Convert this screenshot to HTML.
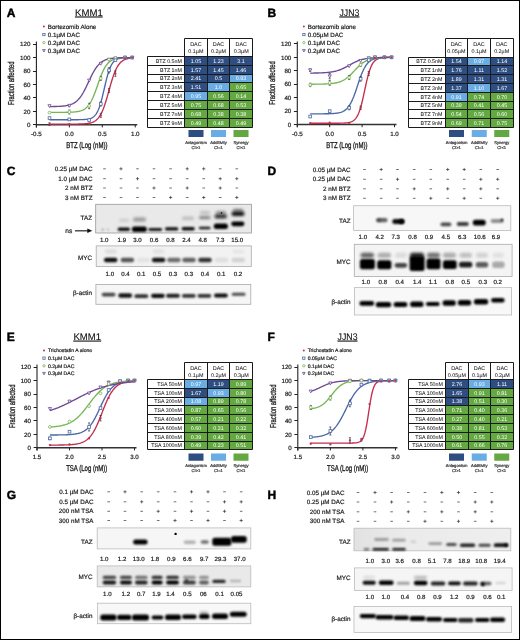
<!DOCTYPE html>
<html><head><meta charset="utf-8"><style>
html,body{margin:0;padding:0;background:#fff;}
body{width:520px;height:640px;position:relative;overflow:hidden;font-family:"Liberation Sans", sans-serif;}
</style></head><body>
<svg width="520" height="640" viewBox="0 0 520 640" style="position:absolute;left:0;top:0;filter:blur(0.3px)" text-rendering="geometricPrecision" font-family='"Liberation Sans", sans-serif'>
<defs><filter id="fb" x="-50%" y="-200%" width="200%" height="500%"><feGaussianBlur stdDeviation="1.0"/></filter><filter id="fs" x="-50%" y="-200%" width="200%" height="500%"><feGaussianBlur stdDeviation="1.7"/></filter></defs>
<rect x="0" y="0" width="520" height="640" fill="#fff"/>
<text x="6.80" y="17.00" font-size="12.0" text-anchor="start" font-weight="bold" fill="#000" stroke="#000" stroke-width="0.45">A</text>
<text x="267.60" y="17.00" font-size="12.0" text-anchor="start" font-weight="bold" fill="#000" stroke="#000" stroke-width="0.45">B</text>
<text x="6.80" y="175.40" font-size="12.0" text-anchor="start" font-weight="bold" fill="#000" stroke="#000" stroke-width="0.45">C</text>
<text x="267.60" y="175.20" font-size="12.0" text-anchor="start" font-weight="bold" fill="#000" stroke="#000" stroke-width="0.45">D</text>
<text x="6.80" y="341.20" font-size="12.0" text-anchor="start" font-weight="bold" fill="#000" stroke="#000" stroke-width="0.45">E</text>
<text x="267.60" y="341.20" font-size="12.0" text-anchor="start" font-weight="bold" fill="#000" stroke="#000" stroke-width="0.45">F</text>
<text x="6.80" y="499.00" font-size="12.0" text-anchor="start" font-weight="bold" fill="#000" stroke="#000" stroke-width="0.45">G</text>
<text x="267.60" y="499.00" font-size="12.0" text-anchor="start" font-weight="bold" fill="#000" stroke="#000" stroke-width="0.45">H</text>
<text x="0" y="0" font-size="9.6" fill="#111" stroke="#111" stroke-width="0.12" text-decoration="underline" transform="translate(75.00 15.50) scale(1.0 1)">KMM1</text>
<text x="0" y="0" font-size="9.6" fill="#111" stroke="#111" stroke-width="0.12" text-decoration="underline" transform="translate(339.50 15.50) scale(0.91 1)">JJN3</text>
<text x="0" y="0" font-size="9.6" fill="#111" stroke="#111" stroke-width="0.12" text-decoration="underline" transform="translate(73.40 339.60) scale(1.0 1)">KMM1</text>
<text x="0" y="0" font-size="9.6" fill="#111" stroke="#111" stroke-width="0.12" text-decoration="underline" transform="translate(337.60 339.60) scale(0.91 1)">JJN3</text>
<path d="M36.40 41.60 V127.40" stroke="#222" stroke-width="1.1" fill="none"/>
<path d="M36.40 124.80 H137.25" stroke="#333" stroke-width="1.5" fill="none"/>
<path d="M33.00 124.50 H36.40" stroke="#222" stroke-width="1"/>
<text x="30.40" y="127.00" font-size="6.2" text-anchor="end" font-weight="normal" fill="#222" stroke="#222" stroke-width="0.2" >0</text>
<path d="M33.00 111.50 H36.40" stroke="#222" stroke-width="1"/>
<text x="30.40" y="113.55" font-size="6.2" text-anchor="end" font-weight="normal" fill="#222" stroke="#222" stroke-width="0.2" >20</text>
<path d="M33.00 97.50 H36.40" stroke="#222" stroke-width="1"/>
<text x="30.40" y="100.10" font-size="6.2" text-anchor="end" font-weight="normal" fill="#222" stroke="#222" stroke-width="0.2" >40</text>
<path d="M33.00 84.50 H36.40" stroke="#222" stroke-width="1"/>
<text x="30.40" y="86.65" font-size="6.2" text-anchor="end" font-weight="normal" fill="#222" stroke="#222" stroke-width="0.2" >60</text>
<path d="M33.00 71.50 H36.40" stroke="#222" stroke-width="1"/>
<text x="30.40" y="73.20" font-size="6.2" text-anchor="end" font-weight="normal" fill="#222" stroke="#222" stroke-width="0.2" >80</text>
<path d="M33.00 57.50 H36.40" stroke="#222" stroke-width="1"/>
<text x="30.40" y="59.75" font-size="6.2" text-anchor="end" font-weight="normal" fill="#222" stroke="#222" stroke-width="0.2" >100</text>
<path d="M33.00 44.50 H36.40" stroke="#222" stroke-width="1"/>
<text x="30.40" y="46.30" font-size="6.2" text-anchor="end" font-weight="normal" fill="#222" stroke="#222" stroke-width="0.2" >120</text>
<path d="M36.40 124.80 V127.40" stroke="#222" stroke-width="1"/>
<text x="36.40" y="136.30" font-size="6.2" text-anchor="middle" font-weight="normal" fill="#222" stroke="#222" stroke-width="0.2" >-0.5</text>
<path d="M69.35 124.80 V127.40" stroke="#222" stroke-width="1"/>
<text x="69.35" y="136.30" font-size="6.2" text-anchor="middle" font-weight="normal" fill="#222" stroke="#222" stroke-width="0.2" >0.0</text>
<path d="M102.30 124.80 V127.40" stroke="#222" stroke-width="1"/>
<text x="102.30" y="136.30" font-size="6.2" text-anchor="middle" font-weight="normal" fill="#222" stroke="#222" stroke-width="0.2" >0.5</text>
<path d="M135.25 124.80 V127.40" stroke="#222" stroke-width="1"/>
<text x="135.25" y="136.30" font-size="6.2" text-anchor="middle" font-weight="normal" fill="#222" stroke="#222" stroke-width="0.2" >1.0</text>
<path d="M49.51 124.13 L50.20 124.13 L50.89 124.13 L51.58 124.13 L52.27 124.13 L52.96 124.13 L53.65 124.13 L54.34 124.13 L55.03 124.13 L55.72 124.13 L56.41 124.13 L57.10 124.13 L57.78 124.13 L58.47 124.13 L59.16 124.13 L59.85 124.13 L60.54 124.13 L61.23 124.13 L61.92 124.12 L62.61 124.12 L63.30 124.12 L63.99 124.12 L64.68 124.12 L65.37 124.12 L66.06 124.12 L66.75 124.12 L67.44 124.12 L68.12 124.12 L68.81 124.12 L69.50 124.11 L70.19 124.11 L70.88 124.11 L71.57 124.11 L72.26 124.10 L72.95 124.10 L73.64 124.10 L74.33 124.09 L75.02 124.08 L75.71 124.08 L76.40 124.07 L77.09 124.06 L77.78 124.05 L78.46 124.04 L79.15 124.02 L79.84 124.00 L80.53 123.98 L81.22 123.96 L81.91 123.94 L82.60 123.90 L83.29 123.87 L83.98 123.83 L84.67 123.78 L85.36 123.72 L86.05 123.66 L86.74 123.58 L87.43 123.50 L88.12 123.40 L88.81 123.28 L89.49 123.15 L90.18 122.99 L90.87 122.81 L91.56 122.60 L92.25 122.36 L92.94 122.09 L93.63 121.77 L94.32 121.41 L95.01 120.99 L95.70 120.51 L96.39 119.97 L97.08 119.35 L97.77 118.64 L98.46 117.84 L99.15 116.93 L99.83 115.92 L100.52 114.78 L101.21 113.52 L101.90 112.12 L102.59 110.58 L103.28 108.89 L103.97 107.07 L104.66 105.10 L105.35 103.01 L106.04 100.80 L106.73 98.49 L107.42 96.10 L108.11 93.65 L108.80 91.18 L109.49 88.69 L110.18 86.23 L110.86 83.83 L111.55 81.49 L112.24 79.25 L112.93 77.13 L113.62 75.13 L114.31 73.27 L115.00 71.54 L115.69 69.96 L116.38 68.53 L117.07 67.23 L117.76 66.05 L118.45 65.01 L119.14 64.07 L119.83 63.25 L120.52 62.51 L121.20 61.87 L121.89 61.31 L122.58 60.81 L123.27 60.38 L123.96 60.00 L124.65 59.67 L125.34 59.38 L126.03 59.14 L126.72 58.92 L127.41 58.73 L128.10 58.57 L128.79 58.43 L129.48 58.31 L130.17 58.21 L130.86 58.12 L131.55 58.04 L132.23 57.97" stroke="#c42d4f" stroke-width="1.35" fill="none"/>
<path d="M49.51 119.76 L50.20 119.76 L50.89 119.76 L51.58 119.76 L52.27 119.76 L52.96 119.76 L53.65 119.76 L54.34 119.76 L55.03 119.76 L55.72 119.76 L56.41 119.76 L57.10 119.76 L57.78 119.76 L58.47 119.76 L59.16 119.76 L59.85 119.76 L60.54 119.76 L61.23 119.76 L61.92 119.76 L62.61 119.76 L63.30 119.76 L63.99 119.76 L64.68 119.76 L65.37 119.76 L66.06 119.75 L66.75 119.75 L67.44 119.75 L68.12 119.75 L68.81 119.75 L69.50 119.75 L70.19 119.75 L70.88 119.75 L71.57 119.75 L72.26 119.75 L72.95 119.75 L73.64 119.74 L74.33 119.74 L75.02 119.74 L75.71 119.74 L76.40 119.73 L77.09 119.73 L77.78 119.72 L78.46 119.71 L79.15 119.70 L79.84 119.69 L80.53 119.67 L81.22 119.66 L81.91 119.64 L82.60 119.61 L83.29 119.58 L83.98 119.54 L84.67 119.50 L85.36 119.44 L86.05 119.38 L86.74 119.30 L87.43 119.20 L88.12 119.08 L88.81 118.94 L89.49 118.77 L90.18 118.57 L90.87 118.32 L91.56 118.03 L92.25 117.67 L92.94 117.25 L93.63 116.74 L94.32 116.13 L95.01 115.42 L95.70 114.57 L96.39 113.58 L97.08 112.42 L97.77 111.08 L98.46 109.54 L99.15 107.79 L99.83 105.81 L100.52 103.62 L101.21 101.21 L101.90 98.61 L102.59 95.84 L103.28 92.95 L103.97 89.98 L104.66 86.99 L105.35 84.02 L106.04 81.14 L106.73 78.39 L107.42 75.81 L108.11 73.43 L108.80 71.26 L109.49 69.31 L110.18 67.58 L110.86 66.07 L111.55 64.75 L112.24 63.61 L112.93 62.63 L113.62 61.80 L114.31 61.10 L115.00 60.51 L115.69 60.01 L116.38 59.59 L117.07 59.24 L117.76 58.95 L118.45 58.71 L119.14 58.51 L119.83 58.35 L120.52 58.21 L121.20 58.09 L121.89 58.00 L122.58 57.92 L123.27 57.86 L123.96 57.80 L124.65 57.76 L125.34 57.72 L126.03 57.69 L126.72 57.67 L127.41 57.65 L128.10 57.63 L128.79 57.62 L129.48 57.60 L130.17 57.59 L130.86 57.59 L131.55 57.58 L132.23 57.58" stroke="#4a68a8" stroke-width="1.35" fill="none"/>
<path d="M49.51 112.36 L50.20 112.36 L50.89 112.36 L51.58 112.36 L52.27 112.35 L52.96 112.35 L53.65 112.35 L54.34 112.35 L55.03 112.35 L55.72 112.35 L56.41 112.35 L57.10 112.35 L57.78 112.35 L58.47 112.34 L59.16 112.34 L59.85 112.34 L60.54 112.34 L61.23 112.33 L61.92 112.33 L62.61 112.32 L63.30 112.32 L63.99 112.31 L64.68 112.30 L65.37 112.30 L66.06 112.29 L66.75 112.28 L67.44 112.26 L68.12 112.25 L68.81 112.23 L69.50 112.21 L70.19 112.19 L70.88 112.16 L71.57 112.13 L72.26 112.09 L72.95 112.05 L73.64 112.01 L74.33 111.95 L75.02 111.89 L75.71 111.82 L76.40 111.73 L77.09 111.64 L77.78 111.53 L78.46 111.40 L79.15 111.26 L79.84 111.09 L80.53 110.90 L81.22 110.68 L81.91 110.42 L82.60 110.13 L83.29 109.80 L83.98 109.43 L84.67 109.00 L85.36 108.51 L86.05 107.96 L86.74 107.34 L87.43 106.65 L88.12 105.86 L88.81 104.99 L89.49 104.02 L90.18 102.94 L90.87 101.76 L91.56 100.47 L92.25 99.07 L92.94 97.56 L93.63 95.95 L94.32 94.24 L95.01 92.45 L95.70 90.58 L96.39 88.66 L97.08 86.70 L97.77 84.72 L98.46 82.75 L99.15 80.80 L99.83 78.89 L100.52 77.04 L101.21 75.26 L101.90 73.57 L102.59 71.99 L103.28 70.50 L103.97 69.13 L104.66 67.86 L105.35 66.71 L106.04 65.66 L106.73 64.71 L107.42 63.86 L108.11 63.09 L108.80 62.41 L109.49 61.81 L110.18 61.28 L110.86 60.80 L111.55 60.39 L112.24 60.02 L112.93 59.70 L113.62 59.42 L114.31 59.18 L115.00 58.97 L115.69 58.78 L116.38 58.62 L117.07 58.48 L117.76 58.35 L118.45 58.25 L119.14 58.15 L119.83 58.07 L120.52 58.00 L121.20 57.94 L121.89 57.89 L122.58 57.84 L123.27 57.81 L123.96 57.77 L124.65 57.74 L125.34 57.72 L126.03 57.69 L126.72 57.67 L127.41 57.66 L128.10 57.64 L128.79 57.63 L129.48 57.62 L130.17 57.61 L130.86 57.60 L131.55 57.60 L132.23 57.59" stroke="#76b552" stroke-width="1.35" fill="none"/>
<path d="M49.51 106.59 L50.20 106.58 L50.89 106.57 L51.58 106.56 L52.27 106.55 L52.96 106.54 L53.65 106.53 L54.34 106.52 L55.03 106.50 L55.72 106.48 L56.41 106.46 L57.10 106.44 L57.78 106.41 L58.47 106.38 L59.16 106.35 L59.85 106.31 L60.54 106.27 L61.23 106.22 L61.92 106.17 L62.61 106.11 L63.30 106.04 L63.99 105.97 L64.68 105.88 L65.37 105.79 L66.06 105.68 L66.75 105.56 L67.44 105.43 L68.12 105.28 L68.81 105.11 L69.50 104.92 L70.19 104.70 L70.88 104.47 L71.57 104.20 L72.26 103.91 L72.95 103.58 L73.64 103.21 L74.33 102.81 L75.02 102.36 L75.71 101.87 L76.40 101.32 L77.09 100.72 L77.78 100.07 L78.46 99.35 L79.15 98.57 L79.84 97.73 L80.53 96.81 L81.22 95.83 L81.91 94.78 L82.60 93.67 L83.29 92.49 L83.98 91.24 L84.67 89.94 L85.36 88.59 L86.05 87.20 L86.74 85.76 L87.43 84.31 L88.12 82.84 L88.81 81.36 L89.49 79.89 L90.18 78.43 L90.87 77.00 L91.56 75.60 L92.25 74.25 L92.94 72.95 L93.63 71.71 L94.32 70.53 L95.01 69.41 L95.70 68.36 L96.39 67.38 L97.08 66.47 L97.77 65.62 L98.46 64.84 L99.15 64.13 L99.83 63.47 L100.52 62.87 L101.21 62.33 L101.90 61.83 L102.59 61.38 L103.28 60.98 L103.97 60.61 L104.66 60.29 L105.35 59.99 L106.04 59.73 L106.73 59.49 L107.42 59.28 L108.11 59.09 L108.80 58.92 L109.49 58.77 L110.18 58.63 L110.86 58.51 L111.55 58.40 L112.24 58.31 L112.93 58.22 L113.62 58.15 L114.31 58.08 L115.00 58.02 L115.69 57.97 L116.38 57.92 L117.07 57.88 L117.76 57.84 L118.45 57.81 L119.14 57.78 L119.83 57.75 L120.52 57.73 L121.20 57.71 L121.89 57.69 L122.58 57.68 L123.27 57.66 L123.96 57.65 L124.65 57.64 L125.34 57.63 L126.03 57.62 L126.72 57.61 L127.41 57.60 L128.10 57.60 L128.79 57.59 L129.48 57.59 L130.17 57.58 L130.86 57.58 L131.55 57.58 L132.23 57.57" stroke="#6d4893" stroke-width="1.35" fill="none"/>
<path d="M49.51 122.78 V125.47 M48.41 122.78 H50.61 M48.41 125.47 H50.61" stroke="#333" stroke-width="0.65" fill="none"/>
<path d="M100.79 113.37 V117.40 M99.69 113.37 H101.89 M99.69 117.40 H101.89" stroke="#333" stroke-width="0.65" fill="none"/>
<path d="M109.03 88.48 V92.52 M107.93 88.48 H110.13 M107.93 92.52 H110.13" stroke="#333" stroke-width="0.65" fill="none"/>
<path d="M115.41 71.00 V76.38 M114.31 71.00 H116.51 M114.31 76.38 H116.51" stroke="#333" stroke-width="0.65" fill="none"/>
<path d="M100.79 101.94 V105.97 M99.69 101.94 H101.89 M99.69 105.97 H101.89" stroke="#333" stroke-width="0.65" fill="none"/>
<path d="M109.03 67.64 V73.02 M107.93 67.64 H110.13 M107.93 73.02 H110.13" stroke="#333" stroke-width="0.65" fill="none"/>
<path d="M69.35 110.00 V114.04 M68.25 110.00 H70.45 M68.25 114.04 H70.45" stroke="#333" stroke-width="0.65" fill="none"/>
<path d="M89.19 103.28 V108.66 M88.09 103.28 H90.29 M88.09 108.66 H90.29" stroke="#333" stroke-width="0.65" fill="none"/>
<path d="M100.79 76.38 V80.42 M99.69 76.38 H101.89 M99.69 80.42 H101.89" stroke="#333" stroke-width="0.65" fill="none"/>
<path d="M69.35 104.62 V106.64 M68.25 104.62 H70.45 M68.25 106.64 H70.45" stroke="#333" stroke-width="0.65" fill="none"/>
<path d="M47.91 104.69 H51.11 L49.51 107.57 Z" fill="#fff" stroke="#6d4893" stroke-width="0.8"/>
<path d="M67.75 104.35 H70.95 L69.35 107.23 Z" fill="#fff" stroke="#6d4893" stroke-width="0.8"/>
<path d="M87.59 79.13 H90.79 L89.19 82.01 Z" fill="#fff" stroke="#6d4893" stroke-width="0.8"/>
<path d="M99.19 62.32 H102.39 L100.79 65.20 Z" fill="#fff" stroke="#6d4893" stroke-width="0.8"/>
<path d="M107.43 58.29 H110.63 L109.03 61.17 Z" fill="#fff" stroke="#6d4893" stroke-width="0.8"/>
<path d="M113.81 56.94 H117.01 L115.41 59.82 Z" fill="#fff" stroke="#6d4893" stroke-width="0.8"/>
<path d="M123.44 56.27 H126.64 L125.04 59.15 Z" fill="#fff" stroke="#6d4893" stroke-width="0.8"/>
<path d="M130.63 56.27 H133.83 L132.23 59.15 Z" fill="#fff" stroke="#6d4893" stroke-width="0.8"/>
<circle cx="49.51" cy="112.69" r="1.40" fill="#fff" stroke="#76b552" stroke-width="0.8"/>
<circle cx="69.35" cy="112.02" r="1.40" fill="#fff" stroke="#76b552" stroke-width="0.8"/>
<circle cx="89.19" cy="105.97" r="1.40" fill="#fff" stroke="#76b552" stroke-width="0.8"/>
<circle cx="100.79" cy="78.40" r="1.40" fill="#fff" stroke="#76b552" stroke-width="0.8"/>
<circle cx="109.03" cy="59.57" r="1.40" fill="#fff" stroke="#76b552" stroke-width="0.8"/>
<circle cx="115.41" cy="58.22" r="1.40" fill="#fff" stroke="#76b552" stroke-width="0.8"/>
<circle cx="125.04" cy="57.55" r="1.40" fill="#fff" stroke="#76b552" stroke-width="0.8"/>
<circle cx="132.23" cy="57.55" r="1.40" fill="#fff" stroke="#76b552" stroke-width="0.8"/>
<rect x="48.16" y="116.73" width="2.70" height="2.70" fill="#fff" stroke="#4a68a8" stroke-width="0.8"/>
<rect x="68.00" y="118.07" width="2.70" height="2.70" fill="#fff" stroke="#4a68a8" stroke-width="0.8"/>
<rect x="87.84" y="118.74" width="2.70" height="2.70" fill="#fff" stroke="#4a68a8" stroke-width="0.8"/>
<rect x="99.44" y="102.60" width="2.70" height="2.70" fill="#fff" stroke="#4a68a8" stroke-width="0.8"/>
<rect x="107.68" y="68.98" width="2.70" height="2.70" fill="#fff" stroke="#4a68a8" stroke-width="0.8"/>
<rect x="114.06" y="58.89" width="2.70" height="2.70" fill="#fff" stroke="#4a68a8" stroke-width="0.8"/>
<rect x="123.69" y="56.20" width="2.70" height="2.70" fill="#fff" stroke="#4a68a8" stroke-width="0.8"/>
<rect x="130.88" y="56.20" width="2.70" height="2.70" fill="#fff" stroke="#4a68a8" stroke-width="0.8"/>
<circle cx="49.51" cy="124.13" r="1.15" fill="#c42d4f"/>
<circle cx="69.35" cy="124.13" r="1.15" fill="#c42d4f"/>
<circle cx="89.19" cy="123.79" r="1.15" fill="#c42d4f"/>
<circle cx="100.79" cy="115.38" r="1.15" fill="#c42d4f"/>
<circle cx="109.03" cy="90.50" r="1.15" fill="#c42d4f"/>
<circle cx="115.41" cy="73.69" r="1.15" fill="#c42d4f"/>
<circle cx="125.04" cy="58.22" r="1.15" fill="#c42d4f"/>
<circle cx="132.23" cy="57.55" r="1.15" fill="#c42d4f"/>
<text x="0" y="0" font-size="8.4" text-anchor="middle" fill="#1a1a1a" stroke="#1a1a1a" stroke-width="0.32" transform="translate(86.83 148.00) scale(0.72 1)">BTZ (Log (nM))</text>
<text x="0" y="0" font-size="8.6" text-anchor="middle" fill="#1a1a1a" stroke="#1a1a1a" stroke-width="0.32" transform="translate(14.40 83.25) rotate(-90) scale(0.68 1)">Fraction affected</text>
<path d="M297.30 41.40 V127.20" stroke="#222" stroke-width="1.1" fill="none"/>
<path d="M297.30 124.60 H396.50" stroke="#333" stroke-width="1.5" fill="none"/>
<path d="M293.90 124.50 H297.30" stroke="#222" stroke-width="1"/>
<text x="291.30" y="126.80" font-size="6.2" text-anchor="end" font-weight="normal" fill="#222" stroke="#222" stroke-width="0.2" >0</text>
<path d="M293.90 111.50 H297.30" stroke="#222" stroke-width="1"/>
<text x="291.30" y="113.35" font-size="6.2" text-anchor="end" font-weight="normal" fill="#222" stroke="#222" stroke-width="0.2" >20</text>
<path d="M293.90 97.50 H297.30" stroke="#222" stroke-width="1"/>
<text x="291.30" y="99.90" font-size="6.2" text-anchor="end" font-weight="normal" fill="#222" stroke="#222" stroke-width="0.2" >40</text>
<path d="M293.90 84.50 H297.30" stroke="#222" stroke-width="1"/>
<text x="291.30" y="86.45" font-size="6.2" text-anchor="end" font-weight="normal" fill="#222" stroke="#222" stroke-width="0.2" >60</text>
<path d="M293.90 70.50 H297.30" stroke="#222" stroke-width="1"/>
<text x="291.30" y="73.00" font-size="6.2" text-anchor="end" font-weight="normal" fill="#222" stroke="#222" stroke-width="0.2" >80</text>
<path d="M293.90 57.50 H297.30" stroke="#222" stroke-width="1"/>
<text x="291.30" y="59.55" font-size="6.2" text-anchor="end" font-weight="normal" fill="#222" stroke="#222" stroke-width="0.2" >100</text>
<path d="M293.90 43.50 H297.30" stroke="#222" stroke-width="1"/>
<text x="291.30" y="46.10" font-size="6.2" text-anchor="end" font-weight="normal" fill="#222" stroke="#222" stroke-width="0.2" >120</text>
<path d="M297.30 124.60 V127.20" stroke="#222" stroke-width="1"/>
<text x="297.30" y="136.10" font-size="6.2" text-anchor="middle" font-weight="normal" fill="#222" stroke="#222" stroke-width="0.2" >-0.5</text>
<path d="M329.70 124.60 V127.20" stroke="#222" stroke-width="1"/>
<text x="329.70" y="136.10" font-size="6.2" text-anchor="middle" font-weight="normal" fill="#222" stroke="#222" stroke-width="0.2" >0.0</text>
<path d="M362.10 124.60 V127.20" stroke="#222" stroke-width="1"/>
<text x="362.10" y="136.10" font-size="6.2" text-anchor="middle" font-weight="normal" fill="#222" stroke="#222" stroke-width="0.2" >0.5</text>
<path d="M394.50 124.60 V127.20" stroke="#222" stroke-width="1"/>
<text x="394.50" y="136.10" font-size="6.2" text-anchor="middle" font-weight="normal" fill="#222" stroke="#222" stroke-width="0.2" >1.0</text>
<path d="M310.19 123.25 L310.87 123.25 L311.55 123.25 L312.23 123.25 L312.90 123.25 L313.58 123.25 L314.26 123.25 L314.94 123.25 L315.62 123.25 L316.29 123.25 L316.97 123.25 L317.65 123.25 L318.33 123.25 L319.01 123.25 L319.68 123.25 L320.36 123.25 L321.04 123.25 L321.72 123.25 L322.39 123.25 L323.07 123.25 L323.75 123.25 L324.43 123.25 L325.11 123.25 L325.78 123.25 L326.46 123.25 L327.14 123.25 L327.82 123.25 L328.50 123.25 L329.17 123.25 L329.85 123.25 L330.53 123.25 L331.21 123.25 L331.88 123.25 L332.56 123.25 L333.24 123.25 L333.92 123.24 L334.60 123.24 L335.27 123.24 L335.95 123.24 L336.63 123.23 L337.31 123.23 L337.98 123.22 L338.66 123.21 L339.34 123.21 L340.02 123.20 L340.70 123.18 L341.37 123.17 L342.05 123.15 L342.73 123.13 L343.41 123.10 L344.09 123.07 L344.76 123.03 L345.44 122.98 L346.12 122.92 L346.80 122.85 L347.47 122.77 L348.15 122.66 L348.83 122.54 L349.51 122.39 L350.19 122.21 L350.86 121.99 L351.54 121.72 L352.22 121.41 L352.90 121.03 L353.58 120.57 L354.25 120.03 L354.93 119.39 L355.61 118.62 L356.29 117.72 L356.96 116.66 L357.64 115.43 L358.32 114.00 L359.00 112.35 L359.68 110.49 L360.35 108.39 L361.03 106.05 L361.71 103.49 L362.39 100.73 L363.07 97.79 L363.74 94.72 L364.42 91.57 L365.10 88.40 L365.78 85.26 L366.45 82.22 L367.13 79.31 L367.81 76.58 L368.49 74.07 L369.17 71.78 L369.84 69.73 L370.52 67.90 L371.20 66.31 L371.88 64.92 L372.56 63.72 L373.23 62.69 L373.91 61.82 L374.59 61.08 L375.27 60.46 L375.94 59.93 L376.62 59.50 L377.30 59.13 L377.98 58.83 L378.66 58.57 L379.33 58.36 L380.01 58.19 L380.69 58.04 L381.37 57.92 L382.05 57.82 L382.72 57.74 L383.40 57.67 L384.08 57.62 L384.76 57.57 L385.43 57.53 L386.11 57.50 L386.79 57.47 L387.47 57.45 L388.15 57.43 L388.82 57.42 L389.50 57.41 L390.18 57.40 L390.86 57.39 L391.53 57.38" stroke="#c42d4f" stroke-width="1.35" fill="none"/>
<path d="M310.19 113.84 L310.87 113.84 L311.55 113.84 L312.23 113.84 L312.90 113.84 L313.58 113.84 L314.26 113.83 L314.94 113.83 L315.62 113.83 L316.29 113.83 L316.97 113.83 L317.65 113.83 L318.33 113.83 L319.01 113.82 L319.68 113.82 L320.36 113.82 L321.04 113.82 L321.72 113.81 L322.39 113.81 L323.07 113.80 L323.75 113.80 L324.43 113.79 L325.11 113.78 L325.78 113.78 L326.46 113.77 L327.14 113.75 L327.82 113.74 L328.50 113.73 L329.17 113.71 L329.85 113.69 L330.53 113.66 L331.21 113.64 L331.88 113.60 L332.56 113.57 L333.24 113.53 L333.92 113.48 L334.60 113.42 L335.27 113.36 L335.95 113.28 L336.63 113.20 L337.31 113.10 L337.98 112.98 L338.66 112.85 L339.34 112.70 L340.02 112.53 L340.70 112.33 L341.37 112.10 L342.05 111.84 L342.73 111.55 L343.41 111.21 L344.09 110.82 L344.76 110.38 L345.44 109.88 L346.12 109.31 L346.80 108.67 L347.47 107.95 L348.15 107.14 L348.83 106.24 L349.51 105.24 L350.19 104.14 L350.86 102.92 L351.54 101.59 L352.22 100.15 L352.90 98.59 L353.58 96.93 L354.25 95.17 L354.93 93.32 L355.61 91.40 L356.29 89.42 L356.96 87.40 L357.64 85.36 L358.32 83.32 L359.00 81.31 L359.68 79.34 L360.35 77.43 L361.03 75.60 L361.71 73.87 L362.39 72.23 L363.07 70.70 L363.74 69.28 L364.42 67.98 L365.10 66.79 L365.78 65.71 L366.45 64.73 L367.13 63.85 L367.81 63.06 L368.49 62.36 L369.17 61.74 L369.84 61.19 L370.52 60.70 L371.20 60.28 L371.88 59.90 L372.56 59.57 L373.23 59.28 L373.91 59.03 L374.59 58.81 L375.27 58.62 L375.94 58.45 L376.62 58.30 L377.30 58.18 L377.98 58.07 L378.66 57.97 L379.33 57.89 L380.01 57.82 L380.69 57.76 L381.37 57.70 L382.05 57.65 L382.72 57.61 L383.40 57.58 L384.08 57.55 L384.76 57.52 L385.43 57.50 L386.11 57.48 L386.79 57.46 L387.47 57.45 L388.15 57.43 L388.82 57.42 L389.50 57.41 L390.18 57.40 L390.86 57.40 L391.53 57.39" stroke="#4a68a8" stroke-width="1.35" fill="none"/>
<path d="M310.19 84.23 L310.87 84.22 L311.55 84.22 L312.23 84.22 L312.90 84.21 L313.58 84.21 L314.26 84.21 L314.94 84.20 L315.62 84.19 L316.29 84.19 L316.97 84.18 L317.65 84.17 L318.33 84.17 L319.01 84.16 L319.68 84.14 L320.36 84.13 L321.04 84.12 L321.72 84.10 L322.39 84.09 L323.07 84.07 L323.75 84.05 L324.43 84.03 L325.11 84.00 L325.78 83.97 L326.46 83.94 L327.14 83.91 L327.82 83.87 L328.50 83.82 L329.17 83.78 L329.85 83.72 L330.53 83.66 L331.21 83.60 L331.88 83.53 L332.56 83.45 L333.24 83.36 L333.92 83.26 L334.60 83.15 L335.27 83.03 L335.95 82.90 L336.63 82.75 L337.31 82.59 L337.98 82.41 L338.66 82.22 L339.34 82.00 L340.02 81.77 L340.70 81.52 L341.37 81.24 L342.05 80.94 L342.73 80.61 L343.41 80.25 L344.09 79.87 L344.76 79.46 L345.44 79.02 L346.12 78.54 L346.80 78.04 L347.47 77.51 L348.15 76.95 L348.83 76.35 L349.51 75.74 L350.19 75.09 L350.86 74.43 L351.54 73.74 L352.22 73.04 L352.90 72.33 L353.58 71.60 L354.25 70.88 L354.93 70.15 L355.61 69.42 L356.29 68.71 L356.96 68.00 L357.64 67.31 L358.32 66.64 L359.00 66.00 L359.68 65.37 L360.35 64.78 L361.03 64.21 L361.71 63.67 L362.39 63.16 L363.07 62.68 L363.74 62.23 L364.42 61.81 L365.10 61.43 L365.78 61.06 L366.45 60.73 L367.13 60.42 L367.81 60.14 L368.49 59.88 L369.17 59.64 L369.84 59.43 L370.52 59.23 L371.20 59.05 L371.88 58.88 L372.56 58.73 L373.23 58.60 L373.91 58.47 L374.59 58.36 L375.27 58.26 L375.94 58.17 L376.62 58.09 L377.30 58.02 L377.98 57.95 L378.66 57.89 L379.33 57.83 L380.01 57.79 L380.69 57.74 L381.37 57.70 L382.05 57.67 L382.72 57.63 L383.40 57.60 L384.08 57.58 L384.76 57.56 L385.43 57.53 L386.11 57.52 L386.79 57.50 L387.47 57.48 L388.15 57.47 L388.82 57.46 L389.50 57.45 L390.18 57.44 L390.86 57.43 L391.53 57.42" stroke="#76b552" stroke-width="1.35" fill="none"/>
<path d="M310.19 73.09 L310.87 73.09 L311.55 73.08 L312.23 73.07 L312.90 73.06 L313.58 73.05 L314.26 73.04 L314.94 73.03 L315.62 73.02 L316.29 73.01 L316.97 72.99 L317.65 72.98 L318.33 72.96 L319.01 72.94 L319.68 72.92 L320.36 72.89 L321.04 72.87 L321.72 72.84 L322.39 72.81 L323.07 72.77 L323.75 72.74 L324.43 72.70 L325.11 72.65 L325.78 72.60 L326.46 72.55 L327.14 72.49 L327.82 72.43 L328.50 72.36 L329.17 72.28 L329.85 72.20 L330.53 72.11 L331.21 72.01 L331.88 71.90 L332.56 71.79 L333.24 71.66 L333.92 71.52 L334.60 71.38 L335.27 71.22 L335.95 71.05 L336.63 70.87 L337.31 70.67 L337.98 70.47 L338.66 70.25 L339.34 70.01 L340.02 69.76 L340.70 69.50 L341.37 69.22 L342.05 68.93 L342.73 68.62 L343.41 68.30 L344.09 67.97 L344.76 67.63 L345.44 67.28 L346.12 66.92 L346.80 66.56 L347.47 66.18 L348.15 65.81 L348.83 65.43 L349.51 65.05 L350.19 64.67 L350.86 64.29 L351.54 63.92 L352.22 63.55 L352.90 63.19 L353.58 62.84 L354.25 62.50 L354.93 62.17 L355.61 61.86 L356.29 61.55 L356.96 61.26 L357.64 60.98 L358.32 60.72 L359.00 60.47 L359.68 60.24 L360.35 60.02 L361.03 59.81 L361.71 59.62 L362.39 59.44 L363.07 59.27 L363.74 59.11 L364.42 58.97 L365.10 58.83 L365.78 58.71 L366.45 58.59 L367.13 58.49 L367.81 58.39 L368.49 58.30 L369.17 58.22 L369.84 58.14 L370.52 58.07 L371.20 58.01 L371.88 57.95 L372.56 57.90 L373.23 57.85 L373.91 57.80 L374.59 57.76 L375.27 57.73 L375.94 57.69 L376.62 57.66 L377.30 57.63 L377.98 57.61 L378.66 57.58 L379.33 57.56 L380.01 57.54 L380.69 57.53 L381.37 57.51 L382.05 57.50 L382.72 57.48 L383.40 57.47 L384.08 57.46 L384.76 57.45 L385.43 57.44 L386.11 57.43 L386.79 57.42 L387.47 57.42 L388.15 57.41 L388.82 57.41 L389.50 57.40 L390.18 57.40 L390.86 57.39 L391.53 57.39" stroke="#6d4893" stroke-width="1.35" fill="none"/>
<path d="M360.62 106.11 V109.47 M359.52 106.11 H361.72 M359.52 109.47 H361.72" stroke="#333" stroke-width="0.65" fill="none"/>
<path d="M368.71 71.47 V75.51 M367.61 71.47 H369.81 M367.61 75.51 H369.81" stroke="#333" stroke-width="0.65" fill="none"/>
<path d="M349.21 105.77 V109.80 M348.11 105.77 H350.31 M348.11 109.80 H350.31" stroke="#333" stroke-width="0.65" fill="none"/>
<path d="M360.62 76.52 V81.22 M359.52 76.52 H361.72 M359.52 81.22 H361.72" stroke="#333" stroke-width="0.65" fill="none"/>
<path d="M310.19 83.24 V86.60 M309.09 83.24 H311.29 M309.09 86.60 H311.29" stroke="#333" stroke-width="0.65" fill="none"/>
<path d="M329.70 80.55 V85.26 M328.60 80.55 H330.80 M328.60 85.26 H330.80" stroke="#333" stroke-width="0.65" fill="none"/>
<path d="M349.21 75.51 V79.54 M348.11 75.51 H350.31 M348.11 79.54 H350.31" stroke="#333" stroke-width="0.65" fill="none"/>
<path d="M360.62 63.07 V66.43 M359.52 63.07 H361.72 M359.52 66.43 H361.72" stroke="#333" stroke-width="0.65" fill="none"/>
<path d="M310.19 68.78 V71.47 M309.09 68.78 H311.29 M309.09 71.47 H311.29" stroke="#333" stroke-width="0.65" fill="none"/>
<path d="M329.70 73.49 V78.87 M328.60 73.49 H330.80 M328.60 78.87 H330.80" stroke="#333" stroke-width="0.65" fill="none"/>
<path d="M308.59 68.85 H311.79 L310.19 71.73 Z" fill="#fff" stroke="#6d4893" stroke-width="0.8"/>
<path d="M328.10 74.90 H331.30 L329.70 77.78 Z" fill="#fff" stroke="#6d4893" stroke-width="0.8"/>
<path d="M347.61 64.81 H350.81 L349.21 67.69 Z" fill="#fff" stroke="#6d4893" stroke-width="0.8"/>
<path d="M359.02 59.43 H362.22 L360.62 62.31 Z" fill="#fff" stroke="#6d4893" stroke-width="0.8"/>
<path d="M367.11 56.74 H370.31 L368.71 59.62 Z" fill="#fff" stroke="#6d4893" stroke-width="0.8"/>
<path d="M373.39 56.07 H376.59 L374.99 58.95 Z" fill="#fff" stroke="#6d4893" stroke-width="0.8"/>
<path d="M382.86 56.07 H386.06 L384.46 58.95 Z" fill="#fff" stroke="#6d4893" stroke-width="0.8"/>
<path d="M389.93 56.07 H393.13 L391.53 58.95 Z" fill="#fff" stroke="#6d4893" stroke-width="0.8"/>
<circle cx="310.19" cy="84.92" r="1.40" fill="#fff" stroke="#76b552" stroke-width="0.8"/>
<circle cx="329.70" cy="82.91" r="1.40" fill="#fff" stroke="#76b552" stroke-width="0.8"/>
<circle cx="349.21" cy="77.53" r="1.40" fill="#fff" stroke="#76b552" stroke-width="0.8"/>
<circle cx="360.62" cy="64.75" r="1.40" fill="#fff" stroke="#76b552" stroke-width="0.8"/>
<circle cx="368.71" cy="58.69" r="1.40" fill="#fff" stroke="#76b552" stroke-width="0.8"/>
<circle cx="374.99" cy="57.35" r="1.40" fill="#fff" stroke="#76b552" stroke-width="0.8"/>
<circle cx="384.46" cy="57.35" r="1.40" fill="#fff" stroke="#76b552" stroke-width="0.8"/>
<circle cx="391.53" cy="57.35" r="1.40" fill="#fff" stroke="#76b552" stroke-width="0.8"/>
<rect x="308.84" y="115.18" width="2.70" height="2.70" fill="#fff" stroke="#4a68a8" stroke-width="0.8"/>
<rect x="328.35" y="109.80" width="2.70" height="2.70" fill="#fff" stroke="#4a68a8" stroke-width="0.8"/>
<rect x="347.86" y="106.44" width="2.70" height="2.70" fill="#fff" stroke="#4a68a8" stroke-width="0.8"/>
<rect x="359.27" y="77.52" width="2.70" height="2.70" fill="#fff" stroke="#4a68a8" stroke-width="0.8"/>
<rect x="367.36" y="58.69" width="2.70" height="2.70" fill="#fff" stroke="#4a68a8" stroke-width="0.8"/>
<rect x="373.64" y="56.00" width="2.70" height="2.70" fill="#fff" stroke="#4a68a8" stroke-width="0.8"/>
<rect x="383.11" y="56.00" width="2.70" height="2.70" fill="#fff" stroke="#4a68a8" stroke-width="0.8"/>
<rect x="390.18" y="56.00" width="2.70" height="2.70" fill="#fff" stroke="#4a68a8" stroke-width="0.8"/>
<circle cx="310.19" cy="123.25" r="1.15" fill="#c42d4f"/>
<circle cx="329.70" cy="122.58" r="1.15" fill="#c42d4f"/>
<circle cx="349.21" cy="122.92" r="1.15" fill="#c42d4f"/>
<circle cx="360.62" cy="107.79" r="1.15" fill="#c42d4f"/>
<circle cx="368.71" cy="73.49" r="1.15" fill="#c42d4f"/>
<circle cx="374.99" cy="58.02" r="1.15" fill="#c42d4f"/>
<circle cx="384.46" cy="57.35" r="1.15" fill="#c42d4f"/>
<circle cx="391.53" cy="57.35" r="1.15" fill="#c42d4f"/>
<text x="0" y="0" font-size="8.4" text-anchor="middle" fill="#1a1a1a" stroke="#1a1a1a" stroke-width="0.32" transform="translate(346.90 147.80) scale(0.72 1)">BTZ (Log (nM))</text>
<text x="0" y="0" font-size="8.6" text-anchor="middle" fill="#1a1a1a" stroke="#1a1a1a" stroke-width="0.32" transform="translate(275.30 83.05) rotate(-90) scale(0.68 1)">Fraction affected</text>
<path d="M37.00 364.60 V450.40" stroke="#222" stroke-width="1.1" fill="none"/>
<path d="M37.00 447.80 H136.50" stroke="#333" stroke-width="1.5" fill="none"/>
<path d="M33.60 447.50 H37.00" stroke="#222" stroke-width="1"/>
<text x="31.00" y="450.00" font-size="6.2" text-anchor="end" font-weight="normal" fill="#222" stroke="#222" stroke-width="0.2" >0</text>
<path d="M33.60 434.50 H37.00" stroke="#222" stroke-width="1"/>
<text x="31.00" y="436.55" font-size="6.2" text-anchor="end" font-weight="normal" fill="#222" stroke="#222" stroke-width="0.2" >20</text>
<path d="M33.60 420.50 H37.00" stroke="#222" stroke-width="1"/>
<text x="31.00" y="423.10" font-size="6.2" text-anchor="end" font-weight="normal" fill="#222" stroke="#222" stroke-width="0.2" >40</text>
<path d="M33.60 407.50 H37.00" stroke="#222" stroke-width="1"/>
<text x="31.00" y="409.65" font-size="6.2" text-anchor="end" font-weight="normal" fill="#222" stroke="#222" stroke-width="0.2" >60</text>
<path d="M33.60 394.50 H37.00" stroke="#222" stroke-width="1"/>
<text x="31.00" y="396.20" font-size="6.2" text-anchor="end" font-weight="normal" fill="#222" stroke="#222" stroke-width="0.2" >80</text>
<path d="M33.60 380.50 H37.00" stroke="#222" stroke-width="1"/>
<text x="31.00" y="382.75" font-size="6.2" text-anchor="end" font-weight="normal" fill="#222" stroke="#222" stroke-width="0.2" >100</text>
<path d="M33.60 367.50 H37.00" stroke="#222" stroke-width="1"/>
<text x="31.00" y="369.30" font-size="6.2" text-anchor="end" font-weight="normal" fill="#222" stroke="#222" stroke-width="0.2" >120</text>
<path d="M37.00 447.80 V450.40" stroke="#222" stroke-width="1"/>
<text x="37.00" y="459.30" font-size="6.2" text-anchor="middle" font-weight="normal" fill="#222" stroke="#222" stroke-width="0.2" >1.5</text>
<path d="M69.50 447.80 V450.40" stroke="#222" stroke-width="1"/>
<text x="69.50" y="459.30" font-size="6.2" text-anchor="middle" font-weight="normal" fill="#222" stroke="#222" stroke-width="0.2" >2.0</text>
<path d="M102.00 447.80 V450.40" stroke="#222" stroke-width="1"/>
<text x="102.00" y="459.30" font-size="6.2" text-anchor="middle" font-weight="normal" fill="#222" stroke="#222" stroke-width="0.2" >2.5</text>
<path d="M134.50 447.80 V450.40" stroke="#222" stroke-width="1"/>
<text x="134.50" y="459.30" font-size="6.2" text-anchor="middle" font-weight="normal" fill="#222" stroke="#222" stroke-width="0.2" >3.0</text>
<path d="M49.93 445.09 L50.64 445.09 L51.34 445.09 L52.05 445.09 L52.75 445.08 L53.46 445.08 L54.16 445.08 L54.87 445.07 L55.57 445.07 L56.28 445.07 L56.98 445.06 L57.69 445.05 L58.39 445.05 L59.09 445.04 L59.80 445.03 L60.50 445.02 L61.21 445.01 L61.91 445.00 L62.62 444.99 L63.32 444.97 L64.03 444.96 L64.73 444.94 L65.44 444.92 L66.14 444.90 L66.85 444.87 L67.55 444.84 L68.26 444.81 L68.96 444.78 L69.67 444.74 L70.37 444.70 L71.07 444.65 L71.78 444.59 L72.48 444.53 L73.19 444.46 L73.89 444.39 L74.60 444.30 L75.30 444.21 L76.01 444.10 L76.71 443.98 L77.42 443.85 L78.12 443.71 L78.83 443.54 L79.53 443.36 L80.24 443.16 L80.94 442.94 L81.65 442.69 L82.35 442.41 L83.06 442.11 L83.76 441.77 L84.46 441.39 L85.17 440.98 L85.87 440.52 L86.58 440.02 L87.28 439.47 L87.99 438.86 L88.69 438.20 L89.40 437.47 L90.10 436.69 L90.81 435.83 L91.51 434.90 L92.22 433.90 L92.92 432.82 L93.63 431.66 L94.33 430.42 L95.04 429.11 L95.74 427.72 L96.44 426.26 L97.15 424.72 L97.85 423.12 L98.56 421.47 L99.26 419.76 L99.97 418.01 L100.67 416.23 L101.38 414.43 L102.08 412.62 L102.79 410.81 L103.49 409.01 L104.20 407.23 L104.90 405.49 L105.61 403.80 L106.31 402.16 L107.02 400.57 L107.72 399.05 L108.43 397.61 L109.13 396.23 L109.83 394.94 L110.54 393.72 L111.24 392.58 L111.95 391.52 L112.65 390.54 L113.36 389.62 L114.06 388.78 L114.77 388.01 L115.47 387.30 L116.18 386.65 L116.88 386.06 L117.59 385.52 L118.29 385.03 L119.00 384.58 L119.70 384.18 L120.41 383.81 L121.11 383.48 L121.81 383.18 L122.52 382.91 L123.22 382.67 L123.93 382.45 L124.63 382.25 L125.34 382.08 L126.04 381.92 L126.75 381.78 L127.45 381.65 L128.16 381.53 L128.86 381.43 L129.57 381.34 L130.27 381.25 L130.98 381.18 L131.68 381.11 L132.39 381.05 L133.09 381.00 L133.80 380.95 L134.50 380.91" stroke="#c42d4f" stroke-width="1.35" fill="none"/>
<path d="M49.93 435.00 L50.64 435.00 L51.34 435.00 L52.05 435.00 L52.75 434.99 L53.46 434.99 L54.16 434.99 L54.87 434.98 L55.57 434.98 L56.28 434.97 L56.98 434.97 L57.69 434.96 L58.39 434.95 L59.09 434.94 L59.80 434.93 L60.50 434.92 L61.21 434.91 L61.91 434.90 L62.62 434.88 L63.32 434.87 L64.03 434.85 L64.73 434.83 L65.44 434.80 L66.14 434.78 L66.85 434.75 L67.55 434.72 L68.26 434.68 L68.96 434.64 L69.67 434.60 L70.37 434.55 L71.07 434.49 L71.78 434.43 L72.48 434.36 L73.19 434.28 L73.89 434.19 L74.60 434.10 L75.30 433.99 L76.01 433.87 L76.71 433.73 L77.42 433.58 L78.12 433.42 L78.83 433.23 L79.53 433.03 L80.24 432.80 L80.94 432.55 L81.65 432.27 L82.35 431.96 L83.06 431.62 L83.76 431.25 L84.46 430.83 L85.17 430.37 L85.87 429.87 L86.58 429.33 L87.28 428.73 L87.99 428.07 L88.69 427.36 L89.40 426.59 L90.10 425.76 L90.81 424.87 L91.51 423.91 L92.22 422.88 L92.92 421.79 L93.63 420.63 L94.33 419.41 L95.04 418.13 L95.74 416.79 L96.44 415.40 L97.15 413.97 L97.85 412.50 L98.56 411.01 L99.26 409.49 L99.97 407.96 L100.67 406.43 L101.38 404.91 L102.08 403.41 L102.79 401.94 L103.49 400.50 L104.20 399.10 L104.90 397.75 L105.61 396.46 L106.31 395.22 L107.02 394.05 L107.72 392.94 L108.43 391.90 L109.13 390.92 L109.83 390.01 L110.54 389.16 L111.24 388.38 L111.95 387.66 L112.65 386.99 L113.36 386.38 L114.06 385.82 L114.77 385.31 L115.47 384.84 L116.18 384.42 L116.88 384.03 L117.59 383.69 L118.29 383.37 L119.00 383.08 L119.70 382.83 L120.41 382.59 L121.11 382.38 L121.81 382.19 L122.52 382.02 L123.22 381.87 L123.93 381.73 L124.63 381.61 L125.34 381.50 L126.04 381.40 L126.75 381.31 L127.45 381.23 L128.16 381.16 L128.86 381.10 L129.57 381.04 L130.27 380.99 L130.98 380.94 L131.68 380.90 L132.39 380.86 L133.09 380.83 L133.80 380.80 L134.50 380.77" stroke="#4a68a8" stroke-width="1.35" fill="none"/>
<path d="M49.93 427.07 L50.64 427.02 L51.34 426.98 L52.05 426.92 L52.75 426.86 L53.46 426.80 L54.16 426.74 L54.87 426.66 L55.57 426.58 L56.28 426.50 L56.98 426.41 L57.69 426.31 L58.39 426.20 L59.09 426.09 L59.80 425.97 L60.50 425.83 L61.21 425.69 L61.91 425.54 L62.62 425.37 L63.32 425.19 L64.03 425.00 L64.73 424.80 L65.44 424.58 L66.14 424.34 L66.85 424.09 L67.55 423.82 L68.26 423.53 L68.96 423.22 L69.67 422.89 L70.37 422.54 L71.07 422.17 L71.78 421.77 L72.48 421.35 L73.19 420.90 L73.89 420.43 L74.60 419.93 L75.30 419.40 L76.01 418.84 L76.71 418.26 L77.42 417.65 L78.12 417.00 L78.83 416.33 L79.53 415.63 L80.24 414.90 L80.94 414.15 L81.65 413.37 L82.35 412.56 L83.06 411.73 L83.76 410.88 L84.46 410.01 L85.17 409.12 L85.87 408.21 L86.58 407.30 L87.28 406.37 L87.99 405.44 L88.69 404.50 L89.40 403.56 L90.10 402.62 L90.81 401.69 L91.51 400.76 L92.22 399.84 L92.92 398.94 L93.63 398.05 L94.33 397.18 L95.04 396.34 L95.74 395.51 L96.44 394.71 L97.15 393.93 L97.85 393.18 L98.56 392.45 L99.26 391.76 L99.97 391.09 L100.67 390.45 L101.38 389.84 L102.08 389.26 L102.79 388.70 L103.49 388.18 L104.20 387.68 L104.90 387.21 L105.61 386.77 L106.31 386.35 L107.02 385.96 L107.72 385.59 L108.43 385.24 L109.13 384.91 L109.83 384.60 L110.54 384.32 L111.24 384.05 L111.95 383.80 L112.65 383.57 L113.36 383.35 L114.06 383.15 L114.77 382.96 L115.47 382.78 L116.18 382.62 L116.88 382.46 L117.59 382.32 L118.29 382.19 L119.00 382.07 L119.70 381.96 L120.41 381.85 L121.11 381.75 L121.81 381.66 L122.52 381.58 L123.22 381.50 L123.93 381.43 L124.63 381.36 L125.34 381.30 L126.04 381.25 L126.75 381.19 L127.45 381.14 L128.16 381.10 L128.86 381.06 L129.57 381.02 L130.27 380.98 L130.98 380.95 L131.68 380.92 L132.39 380.89 L133.09 380.87 L133.80 380.84 L134.50 380.82" stroke="#76b552" stroke-width="1.35" fill="none"/>
<path d="M49.93 410.66 L50.64 410.44 L51.34 410.21 L52.05 409.97 L52.75 409.73 L53.46 409.48 L54.16 409.22 L54.87 408.96 L55.57 408.70 L56.28 408.42 L56.98 408.15 L57.69 407.86 L58.39 407.58 L59.09 407.28 L59.80 406.98 L60.50 406.68 L61.21 406.37 L61.91 406.06 L62.62 405.74 L63.32 405.42 L64.03 405.09 L64.73 404.76 L65.44 404.42 L66.14 404.08 L66.85 403.74 L67.55 403.39 L68.26 403.04 L68.96 402.68 L69.67 402.33 L70.37 401.97 L71.07 401.61 L71.78 401.25 L72.48 400.88 L73.19 400.51 L73.89 400.15 L74.60 399.78 L75.30 399.41 L76.01 399.04 L76.71 398.67 L77.42 398.30 L78.12 397.93 L78.83 397.57 L79.53 397.20 L80.24 396.83 L80.94 396.47 L81.65 396.11 L82.35 395.75 L83.06 395.39 L83.76 395.04 L84.46 394.69 L85.17 394.34 L85.87 394.00 L86.58 393.66 L87.28 393.32 L87.99 392.99 L88.69 392.66 L89.40 392.34 L90.10 392.02 L90.81 391.71 L91.51 391.40 L92.22 391.10 L92.92 390.80 L93.63 390.50 L94.33 390.22 L95.04 389.93 L95.74 389.66 L96.44 389.39 L97.15 389.12 L97.85 388.86 L98.56 388.61 L99.26 388.36 L99.97 388.11 L100.67 387.88 L101.38 387.64 L102.08 387.42 L102.79 387.20 L103.49 386.98 L104.20 386.77 L104.90 386.57 L105.61 386.37 L106.31 386.18 L107.02 385.99 L107.72 385.81 L108.43 385.63 L109.13 385.46 L109.83 385.29 L110.54 385.13 L111.24 384.97 L111.95 384.82 L112.65 384.67 L113.36 384.52 L114.06 384.38 L114.77 384.25 L115.47 384.12 L116.18 383.99 L116.88 383.87 L117.59 383.75 L118.29 383.63 L119.00 383.52 L119.70 383.42 L120.41 383.31 L121.11 383.21 L121.81 383.12 L122.52 383.02 L123.22 382.93 L123.93 382.84 L124.63 382.76 L125.34 382.68 L126.04 382.60 L126.75 382.52 L127.45 382.45 L128.16 382.38 L128.86 382.31 L129.57 382.24 L130.27 382.18 L130.98 382.12 L131.68 382.06 L132.39 382.00 L133.09 381.95 L133.80 381.90 L134.50 381.85" stroke="#6d4893" stroke-width="1.35" fill="none"/>
<path d="M89.07 422.92 V430.99 M87.97 422.92 H90.17 M87.97 430.99 H90.17" stroke="#333" stroke-width="0.65" fill="none"/>
<path d="M100.51 415.52 V420.90 M99.41 415.52 H101.61 M99.41 420.90 H101.61" stroke="#333" stroke-width="0.65" fill="none"/>
<path d="M49.93 437.04 V439.73 M48.83 437.04 H51.03 M48.83 439.73 H51.03" stroke="#333" stroke-width="0.65" fill="none"/>
<path d="M108.63 381.22 V383.91 M107.53 381.22 H109.73 M107.53 383.91 H109.73" stroke="#333" stroke-width="0.65" fill="none"/>
<path d="M48.33 407.52 H51.53 L49.93 410.40 Z" fill="#fff" stroke="#6d4893" stroke-width="0.8"/>
<path d="M67.90 400.12 H71.10 L69.50 403.00 Z" fill="#fff" stroke="#6d4893" stroke-width="0.8"/>
<path d="M87.47 392.05 H90.67 L89.07 394.93 Z" fill="#fff" stroke="#6d4893" stroke-width="0.8"/>
<path d="M98.91 386.00 H102.11 L100.51 388.88 Z" fill="#fff" stroke="#6d4893" stroke-width="0.8"/>
<path d="M107.03 381.29 H110.23 L108.63 384.17 Z" fill="#fff" stroke="#6d4893" stroke-width="0.8"/>
<path d="M118.48 379.94 H121.68 L120.08 382.82 Z" fill="#fff" stroke="#6d4893" stroke-width="0.8"/>
<path d="M126.60 379.27 H129.80 L128.20 382.15 Z" fill="#fff" stroke="#6d4893" stroke-width="0.8"/>
<path d="M132.90 379.27 H136.10 L134.50 382.15 Z" fill="#fff" stroke="#6d4893" stroke-width="0.8"/>
<circle cx="49.93" cy="426.95" r="1.40" fill="#fff" stroke="#76b552" stroke-width="0.8"/>
<circle cx="69.50" cy="421.57" r="1.40" fill="#fff" stroke="#76b552" stroke-width="0.8"/>
<circle cx="89.07" cy="406.11" r="1.40" fill="#fff" stroke="#76b552" stroke-width="0.8"/>
<circle cx="100.51" cy="393.33" r="1.40" fill="#fff" stroke="#76b552" stroke-width="0.8"/>
<circle cx="108.63" cy="383.91" r="1.40" fill="#fff" stroke="#76b552" stroke-width="0.8"/>
<circle cx="120.08" cy="381.22" r="1.40" fill="#fff" stroke="#76b552" stroke-width="0.8"/>
<circle cx="128.20" cy="380.55" r="1.40" fill="#fff" stroke="#76b552" stroke-width="0.8"/>
<circle cx="134.50" cy="380.55" r="1.40" fill="#fff" stroke="#76b552" stroke-width="0.8"/>
<rect x="48.58" y="437.03" width="2.70" height="2.70" fill="#fff" stroke="#4a68a8" stroke-width="0.8"/>
<rect x="68.15" y="430.31" width="2.70" height="2.70" fill="#fff" stroke="#4a68a8" stroke-width="0.8"/>
<rect x="87.72" y="425.60" width="2.70" height="2.70" fill="#fff" stroke="#4a68a8" stroke-width="0.8"/>
<rect x="99.16" y="406.77" width="2.70" height="2.70" fill="#fff" stroke="#4a68a8" stroke-width="0.8"/>
<rect x="107.28" y="388.62" width="2.70" height="2.70" fill="#fff" stroke="#4a68a8" stroke-width="0.8"/>
<rect x="118.73" y="379.87" width="2.70" height="2.70" fill="#fff" stroke="#4a68a8" stroke-width="0.8"/>
<rect x="126.85" y="379.20" width="2.70" height="2.70" fill="#fff" stroke="#4a68a8" stroke-width="0.8"/>
<rect x="133.15" y="379.20" width="2.70" height="2.70" fill="#fff" stroke="#4a68a8" stroke-width="0.8"/>
<circle cx="49.93" cy="445.11" r="1.15" fill="#c42d4f"/>
<circle cx="69.50" cy="444.44" r="1.15" fill="#c42d4f"/>
<circle cx="89.07" cy="438.38" r="1.15" fill="#c42d4f"/>
<circle cx="100.51" cy="418.21" r="1.15" fill="#c42d4f"/>
<circle cx="108.63" cy="398.04" r="1.15" fill="#c42d4f"/>
<circle cx="120.08" cy="382.57" r="1.15" fill="#c42d4f"/>
<circle cx="128.20" cy="381.22" r="1.15" fill="#c42d4f"/>
<circle cx="134.50" cy="380.55" r="1.15" fill="#c42d4f"/>
<text x="0" y="0" font-size="8.4" text-anchor="middle" fill="#1a1a1a" stroke="#1a1a1a" stroke-width="0.32" transform="translate(86.75 471.00) scale(0.72 1)">TSA (Log (nM))</text>
<text x="0" y="0" font-size="8.6" text-anchor="middle" fill="#1a1a1a" stroke="#1a1a1a" stroke-width="0.32" transform="translate(15.00 406.25) rotate(-90) scale(0.68 1)">Fraction affected</text>
<path d="M297.80 364.60 V450.40" stroke="#222" stroke-width="1.1" fill="none"/>
<path d="M297.80 447.80 H397.45" stroke="#333" stroke-width="1.5" fill="none"/>
<path d="M294.40 447.50 H297.80" stroke="#222" stroke-width="1"/>
<text x="291.80" y="450.00" font-size="6.2" text-anchor="end" font-weight="normal" fill="#222" stroke="#222" stroke-width="0.2" >0</text>
<path d="M294.40 434.50 H297.80" stroke="#222" stroke-width="1"/>
<text x="291.80" y="436.55" font-size="6.2" text-anchor="end" font-weight="normal" fill="#222" stroke="#222" stroke-width="0.2" >20</text>
<path d="M294.40 420.50 H297.80" stroke="#222" stroke-width="1"/>
<text x="291.80" y="423.10" font-size="6.2" text-anchor="end" font-weight="normal" fill="#222" stroke="#222" stroke-width="0.2" >40</text>
<path d="M294.40 407.50 H297.80" stroke="#222" stroke-width="1"/>
<text x="291.80" y="409.65" font-size="6.2" text-anchor="end" font-weight="normal" fill="#222" stroke="#222" stroke-width="0.2" >60</text>
<path d="M294.40 394.50 H297.80" stroke="#222" stroke-width="1"/>
<text x="291.80" y="396.20" font-size="6.2" text-anchor="end" font-weight="normal" fill="#222" stroke="#222" stroke-width="0.2" >80</text>
<path d="M294.40 380.50 H297.80" stroke="#222" stroke-width="1"/>
<text x="291.80" y="382.75" font-size="6.2" text-anchor="end" font-weight="normal" fill="#222" stroke="#222" stroke-width="0.2" >100</text>
<path d="M294.40 367.50 H297.80" stroke="#222" stroke-width="1"/>
<text x="291.80" y="369.30" font-size="6.2" text-anchor="end" font-weight="normal" fill="#222" stroke="#222" stroke-width="0.2" >120</text>
<path d="M297.80 447.80 V450.40" stroke="#222" stroke-width="1"/>
<text x="297.80" y="459.30" font-size="6.2" text-anchor="middle" font-weight="normal" fill="#222" stroke="#222" stroke-width="0.2" >1.5</text>
<path d="M330.35 447.80 V450.40" stroke="#222" stroke-width="1"/>
<text x="330.35" y="459.30" font-size="6.2" text-anchor="middle" font-weight="normal" fill="#222" stroke="#222" stroke-width="0.2" >2.0</text>
<path d="M362.90 447.80 V450.40" stroke="#222" stroke-width="1"/>
<text x="362.90" y="459.30" font-size="6.2" text-anchor="middle" font-weight="normal" fill="#222" stroke="#222" stroke-width="0.2" >2.5</text>
<path d="M395.45 447.80 V450.40" stroke="#222" stroke-width="1"/>
<text x="395.45" y="459.30" font-size="6.2" text-anchor="middle" font-weight="normal" fill="#222" stroke="#222" stroke-width="0.2" >3.0</text>
<path d="M310.75 443.09 L311.46 443.09 L312.16 443.09 L312.87 443.09 L313.58 443.09 L314.28 443.09 L314.99 443.09 L315.69 443.09 L316.40 443.09 L317.11 443.09 L317.81 443.09 L318.52 443.09 L319.22 443.09 L319.93 443.09 L320.63 443.09 L321.34 443.09 L322.05 443.09 L322.75 443.09 L323.46 443.09 L324.16 443.09 L324.87 443.09 L325.57 443.09 L326.28 443.09 L326.99 443.09 L327.69 443.09 L328.40 443.09 L329.10 443.09 L329.81 443.09 L330.52 443.09 L331.22 443.09 L331.93 443.09 L332.63 443.09 L333.34 443.09 L334.04 443.09 L334.75 443.09 L335.46 443.09 L336.16 443.09 L336.87 443.09 L337.57 443.09 L338.28 443.09 L338.99 443.09 L339.69 443.09 L340.40 443.09 L341.10 443.09 L341.81 443.09 L342.51 443.09 L343.22 443.09 L343.93 443.09 L344.63 443.09 L345.34 443.09 L346.04 443.09 L346.75 443.09 L347.46 443.09 L348.16 443.08 L348.87 443.08 L349.57 443.07 L350.28 443.07 L350.98 443.06 L351.69 443.05 L352.40 443.03 L353.10 443.01 L353.81 442.98 L354.51 442.94 L355.22 442.89 L355.92 442.82 L356.63 442.73 L357.34 442.61 L358.04 442.44 L358.75 442.21 L359.45 441.91 L360.16 441.51 L360.87 440.97 L361.57 440.27 L362.28 439.34 L362.98 438.13 L363.69 436.58 L364.39 434.61 L365.10 432.17 L365.81 429.20 L366.51 425.70 L367.22 421.70 L367.92 417.31 L368.63 412.68 L369.34 408.02 L370.04 403.52 L370.75 399.36 L371.45 395.67 L372.16 392.50 L372.86 389.87 L373.57 387.73 L374.28 386.04 L374.98 384.71 L375.69 383.69 L376.39 382.91 L377.10 382.31 L377.80 381.87 L378.51 381.53 L379.22 381.28 L379.92 381.09 L380.63 380.95 L381.33 380.85 L382.04 380.77 L382.75 380.71 L383.45 380.67 L384.16 380.64 L384.86 380.62 L385.57 380.60 L386.27 380.59 L386.98 380.58 L387.69 380.57 L388.39 380.57 L389.10 380.56 L389.80 380.56 L390.51 380.56 L391.22 380.55 L391.92 380.55 L392.63 380.55 L393.33 380.55 L394.04 380.55 L394.74 380.55 L395.45 380.55" stroke="#c42d4f" stroke-width="1.35" fill="none"/>
<path d="M310.75 437.32 L311.46 437.28 L312.16 437.24 L312.87 437.19 L313.58 437.13 L314.28 437.07 L314.99 437.01 L315.69 436.94 L316.40 436.85 L317.11 436.77 L317.81 436.67 L318.52 436.56 L319.22 436.44 L319.93 436.31 L320.63 436.17 L321.34 436.01 L322.05 435.84 L322.75 435.65 L323.46 435.44 L324.16 435.21 L324.87 434.96 L325.57 434.69 L326.28 434.39 L326.99 434.07 L327.69 433.71 L328.40 433.32 L329.10 432.90 L329.81 432.44 L330.52 431.94 L331.22 431.40 L331.93 430.82 L332.63 430.19 L333.34 429.52 L334.04 428.79 L334.75 428.01 L335.46 427.18 L336.16 426.30 L336.87 425.36 L337.57 424.36 L338.28 423.31 L338.99 422.21 L339.69 421.06 L340.40 419.86 L341.10 418.61 L341.81 417.32 L342.51 415.99 L343.22 414.63 L343.93 413.24 L344.63 411.84 L345.34 410.42 L346.04 408.99 L346.75 407.57 L347.46 406.15 L348.16 404.74 L348.87 403.36 L349.57 402.01 L350.28 400.69 L350.98 399.41 L351.69 398.17 L352.40 396.97 L353.10 395.83 L353.81 394.74 L354.51 393.70 L355.22 392.72 L355.92 391.79 L356.63 390.91 L357.34 390.09 L358.04 389.32 L358.75 388.61 L359.45 387.94 L360.16 387.32 L360.87 386.75 L361.57 386.22 L362.28 385.73 L362.98 385.28 L363.69 384.86 L364.39 384.48 L365.10 384.13 L365.81 383.81 L366.51 383.52 L367.22 383.25 L367.92 383.00 L368.63 382.78 L369.34 382.57 L370.04 382.39 L370.75 382.22 L371.45 382.06 L372.16 381.92 L372.86 381.80 L373.57 381.68 L374.28 381.57 L374.98 381.48 L375.69 381.39 L376.39 381.31 L377.10 381.24 L377.80 381.18 L378.51 381.12 L379.22 381.06 L379.92 381.02 L380.63 380.97 L381.33 380.93 L382.04 380.90 L382.75 380.86 L383.45 380.83 L384.16 380.81 L384.86 380.78 L385.57 380.76 L386.27 380.74 L386.98 380.72 L387.69 380.71 L388.39 380.69 L389.10 380.68 L389.80 380.67 L390.51 380.65 L391.22 380.64 L391.92 380.64 L392.63 380.63 L393.33 380.62 L394.04 380.61 L394.74 380.61 L395.45 380.60" stroke="#4a68a8" stroke-width="1.35" fill="none"/>
<path d="M310.75 408.77 L311.46 408.68 L312.16 408.57 L312.87 408.46 L313.58 408.33 L314.28 408.19 L314.99 408.03 L315.69 407.84 L316.40 407.64 L317.11 407.42 L317.81 407.17 L318.52 406.89 L319.22 406.58 L319.93 406.24 L320.63 405.86 L321.34 405.45 L322.05 405.00 L322.75 404.50 L323.46 403.97 L324.16 403.39 L324.87 402.77 L325.57 402.11 L326.28 401.40 L326.99 400.66 L327.69 399.87 L328.40 399.06 L329.10 398.21 L329.81 397.34 L330.52 396.46 L331.22 395.56 L331.93 394.66 L332.63 393.76 L333.34 392.87 L334.04 391.99 L334.75 391.14 L335.46 390.32 L336.16 389.53 L336.87 388.78 L337.57 388.06 L338.28 387.39 L338.99 386.76 L339.69 386.17 L340.40 385.63 L341.10 385.13 L341.81 384.67 L342.51 384.24 L343.22 383.86 L343.93 383.51 L344.63 383.20 L345.34 382.91 L346.04 382.65 L346.75 382.42 L347.46 382.22 L348.16 382.03 L348.87 381.86 L349.57 381.72 L350.28 381.58 L350.98 381.47 L351.69 381.36 L352.40 381.27 L353.10 381.19 L353.81 381.11 L354.51 381.05 L355.22 380.99 L355.92 380.94 L356.63 380.89 L357.34 380.85 L358.04 380.82 L358.75 380.79 L359.45 380.76 L360.16 380.74 L360.87 380.71 L361.57 380.69 L362.28 380.68 L362.98 380.66 L363.69 380.65 L364.39 380.64 L365.10 380.63 L365.81 380.62 L366.51 380.61 L367.22 380.60 L367.92 380.60 L368.63 380.59 L369.34 380.59 L370.04 380.58 L370.75 380.58 L371.45 380.58 L372.16 380.57 L372.86 380.57 L373.57 380.57 L374.28 380.57 L374.98 380.56 L375.69 380.56 L376.39 380.56 L377.10 380.56 L377.80 380.56 L378.51 380.56 L379.22 380.56 L379.92 380.56 L380.63 380.56 L381.33 380.55 L382.04 380.55 L382.75 380.55 L383.45 380.55 L384.16 380.55 L384.86 380.55 L385.57 380.55 L386.27 380.55 L386.98 380.55 L387.69 380.55 L388.39 380.55 L389.10 380.55 L389.80 380.55 L390.51 380.55 L391.22 380.55 L391.92 380.55 L392.63 380.55 L393.33 380.55 L394.04 380.55 L394.74 380.55 L395.45 380.55" stroke="#76b552" stroke-width="1.35" fill="none"/>
<path d="M310.75 391.32 L311.46 391.10 L312.16 390.87 L312.87 390.62 L313.58 390.36 L314.28 390.09 L314.99 389.81 L315.69 389.51 L316.40 389.21 L317.11 388.90 L317.81 388.58 L318.52 388.25 L319.22 387.92 L319.93 387.59 L320.63 387.25 L321.34 386.92 L322.05 386.58 L322.75 386.25 L323.46 385.93 L324.16 385.61 L324.87 385.30 L325.57 385.00 L326.28 384.70 L326.99 384.42 L327.69 384.15 L328.40 383.90 L329.10 383.65 L329.81 383.42 L330.52 383.20 L331.22 382.99 L331.93 382.80 L332.63 382.62 L333.34 382.45 L334.04 382.29 L334.75 382.15 L335.46 382.01 L336.16 381.89 L336.87 381.77 L337.57 381.67 L338.28 381.57 L338.99 381.48 L339.69 381.39 L340.40 381.32 L341.10 381.25 L341.81 381.19 L342.51 381.13 L343.22 381.08 L343.93 381.03 L344.63 380.98 L345.34 380.94 L346.04 380.91 L346.75 380.87 L347.46 380.84 L348.16 380.82 L348.87 380.79 L349.57 380.77 L350.28 380.75 L350.98 380.73 L351.69 380.71 L352.40 380.70 L353.10 380.68 L353.81 380.67 L354.51 380.66 L355.22 380.65 L355.92 380.64 L356.63 380.63 L357.34 380.62 L358.04 380.62 L358.75 380.61 L359.45 380.60 L360.16 380.60 L360.87 380.59 L361.57 380.59 L362.28 380.59 L362.98 380.58 L363.69 380.58 L364.39 380.58 L365.10 380.57 L365.81 380.57 L366.51 380.57 L367.22 380.57 L367.92 380.57 L368.63 380.57 L369.34 380.56 L370.04 380.56 L370.75 380.56 L371.45 380.56 L372.16 380.56 L372.86 380.56 L373.57 380.56 L374.28 380.56 L374.98 380.56 L375.69 380.56 L376.39 380.56 L377.10 380.55 L377.80 380.55 L378.51 380.55 L379.22 380.55 L379.92 380.55 L380.63 380.55 L381.33 380.55 L382.04 380.55 L382.75 380.55 L383.45 380.55 L384.16 380.55 L384.86 380.55 L385.57 380.55 L386.27 380.55 L386.98 380.55 L387.69 380.55 L388.39 380.55 L389.10 380.55 L389.80 380.55 L390.51 380.55 L391.22 380.55 L391.92 380.55 L392.63 380.55 L393.33 380.55 L394.04 380.55 L394.74 380.55 L395.45 380.55" stroke="#6d4893" stroke-width="1.35" fill="none"/>
<path d="M310.75 405.43 V409.47 M309.65 405.43 H311.85 M309.65 409.47 H311.85" stroke="#333" stroke-width="0.65" fill="none"/>
<path d="M330.35 396.02 V400.05 M329.25 396.02 H331.45 M329.25 400.05 H331.45" stroke="#333" stroke-width="0.65" fill="none"/>
<path d="M330.35 426.95 V435.02 M329.25 426.95 H331.45 M329.25 435.02 H331.45" stroke="#333" stroke-width="0.65" fill="none"/>
<path d="M349.95 400.05 V406.78 M348.85 400.05 H351.05 M348.85 406.78 H351.05" stroke="#333" stroke-width="0.65" fill="none"/>
<path d="M349.95 437.71 V443.09 M348.85 437.71 H351.05 M348.85 443.09 H351.05" stroke="#333" stroke-width="0.65" fill="none"/>
<path d="M361.41 438.38 V441.08 M360.31 438.38 H362.51 M360.31 441.08 H362.51" stroke="#333" stroke-width="0.65" fill="none"/>
<path d="M309.15 390.03 H312.35 L310.75 392.91 Z" fill="#fff" stroke="#6d4893" stroke-width="0.8"/>
<path d="M328.75 381.96 H331.95 L330.35 384.84 Z" fill="#fff" stroke="#6d4893" stroke-width="0.8"/>
<path d="M348.35 379.27 H351.55 L349.95 382.15 Z" fill="#fff" stroke="#6d4893" stroke-width="0.8"/>
<path d="M359.81 379.27 H363.01 L361.41 382.15 Z" fill="#fff" stroke="#6d4893" stroke-width="0.8"/>
<path d="M367.94 379.27 H371.14 L369.54 382.15 Z" fill="#fff" stroke="#6d4893" stroke-width="0.8"/>
<path d="M379.41 379.27 H382.61 L381.01 382.15 Z" fill="#fff" stroke="#6d4893" stroke-width="0.8"/>
<path d="M387.54 379.27 H390.74 L389.14 382.15 Z" fill="#fff" stroke="#6d4893" stroke-width="0.8"/>
<path d="M393.85 379.27 H397.05 L395.45 382.15 Z" fill="#fff" stroke="#6d4893" stroke-width="0.8"/>
<circle cx="310.75" cy="407.45" r="1.40" fill="#fff" stroke="#76b552" stroke-width="0.8"/>
<circle cx="330.35" cy="398.04" r="1.40" fill="#fff" stroke="#76b552" stroke-width="0.8"/>
<circle cx="349.95" cy="381.22" r="1.40" fill="#fff" stroke="#76b552" stroke-width="0.8"/>
<circle cx="361.41" cy="380.55" r="1.40" fill="#fff" stroke="#76b552" stroke-width="0.8"/>
<circle cx="369.54" cy="380.55" r="1.40" fill="#fff" stroke="#76b552" stroke-width="0.8"/>
<circle cx="381.01" cy="380.55" r="1.40" fill="#fff" stroke="#76b552" stroke-width="0.8"/>
<circle cx="389.14" cy="380.55" r="1.40" fill="#fff" stroke="#76b552" stroke-width="0.8"/>
<circle cx="395.45" cy="380.55" r="1.40" fill="#fff" stroke="#76b552" stroke-width="0.8"/>
<rect x="309.40" y="435.69" width="2.70" height="2.70" fill="#fff" stroke="#4a68a8" stroke-width="0.8"/>
<rect x="329.00" y="429.64" width="2.70" height="2.70" fill="#fff" stroke="#4a68a8" stroke-width="0.8"/>
<rect x="348.60" y="402.06" width="2.70" height="2.70" fill="#fff" stroke="#4a68a8" stroke-width="0.8"/>
<rect x="360.06" y="383.24" width="2.70" height="2.70" fill="#fff" stroke="#4a68a8" stroke-width="0.8"/>
<rect x="368.19" y="379.87" width="2.70" height="2.70" fill="#fff" stroke="#4a68a8" stroke-width="0.8"/>
<rect x="379.66" y="379.20" width="2.70" height="2.70" fill="#fff" stroke="#4a68a8" stroke-width="0.8"/>
<rect x="387.79" y="379.20" width="2.70" height="2.70" fill="#fff" stroke="#4a68a8" stroke-width="0.8"/>
<rect x="394.10" y="379.20" width="2.70" height="2.70" fill="#fff" stroke="#4a68a8" stroke-width="0.8"/>
<circle cx="310.75" cy="443.76" r="1.15" fill="#c42d4f"/>
<circle cx="330.35" cy="444.44" r="1.15" fill="#c42d4f"/>
<circle cx="349.95" cy="440.40" r="1.15" fill="#c42d4f"/>
<circle cx="361.41" cy="439.73" r="1.15" fill="#c42d4f"/>
<circle cx="369.54" cy="404.09" r="1.15" fill="#c42d4f"/>
<circle cx="381.01" cy="381.22" r="1.15" fill="#c42d4f"/>
<circle cx="389.14" cy="381.22" r="1.15" fill="#c42d4f"/>
<circle cx="395.45" cy="380.55" r="1.15" fill="#c42d4f"/>
<text x="0" y="0" font-size="8.4" text-anchor="middle" fill="#1a1a1a" stroke="#1a1a1a" stroke-width="0.32" transform="translate(347.62 471.00) scale(0.72 1)">TSA (Log (nM))</text>
<text x="0" y="0" font-size="8.6" text-anchor="middle" fill="#1a1a1a" stroke="#1a1a1a" stroke-width="0.32" transform="translate(275.80 406.25) rotate(-90) scale(0.68 1)">Fraction affected</text>
<circle cx="43.90" cy="26.50" r="0.98" fill="#c42d4f"/>
<text x="47.80" y="28.73" font-size="6.2" text-anchor="start" font-weight="normal" fill="#222" stroke="#222" stroke-width="0.2" >Bortezomib Alone</text>
<rect x="42.75" y="33.40" width="2.29" height="2.29" fill="#fff" stroke="#4a68a8" stroke-width="0.8"/>
<text x="47.80" y="36.78" font-size="6.2" text-anchor="start" font-weight="normal" fill="#222" stroke="#222" stroke-width="0.2" >0.1&#181;M DAC</text>
<circle cx="43.90" cy="42.60" r="1.19" fill="#fff" stroke="#76b552" stroke-width="0.8"/>
<text x="47.80" y="44.83" font-size="6.2" text-anchor="start" font-weight="normal" fill="#222" stroke="#222" stroke-width="0.2" >0.2&#181;M DAC</text>
<path d="M42.54 49.56 H45.26 L43.90 52.01 Z" fill="#fff" stroke="#6d4893" stroke-width="0.8"/>
<text x="47.80" y="52.88" font-size="6.2" text-anchor="start" font-weight="normal" fill="#222" stroke="#222" stroke-width="0.2" >0.3&#181;M DAC</text>
<circle cx="303.90" cy="26.50" r="0.98" fill="#c42d4f"/>
<text x="307.80" y="28.73" font-size="6.2" text-anchor="start" font-weight="normal" fill="#222" stroke="#222" stroke-width="0.2" >Bortezomib alone</text>
<rect x="302.75" y="33.40" width="2.29" height="2.29" fill="#fff" stroke="#4a68a8" stroke-width="0.8"/>
<text x="307.80" y="36.78" font-size="6.2" text-anchor="start" font-weight="normal" fill="#222" stroke="#222" stroke-width="0.2" >0.05&#181;M DAC</text>
<circle cx="303.90" cy="42.60" r="1.19" fill="#fff" stroke="#76b552" stroke-width="0.8"/>
<text x="307.80" y="44.83" font-size="6.2" text-anchor="start" font-weight="normal" fill="#222" stroke="#222" stroke-width="0.2" >0.1&#181;M DAC</text>
<path d="M302.54 49.56 H305.26 L303.90 52.01 Z" fill="#fff" stroke="#6d4893" stroke-width="0.8"/>
<text x="307.80" y="52.88" font-size="6.2" text-anchor="start" font-weight="normal" fill="#222" stroke="#222" stroke-width="0.2" >0.2&#181;M DAC</text>
<circle cx="44.00" cy="350.50" r="0.98" fill="#c42d4f"/>
<text x="47.90" y="352.34" font-size="5.1" text-anchor="start" font-weight="normal" fill="#222" stroke="#222" stroke-width="0.2" >Trichostatin A alone</text>
<rect x="42.85" y="357.02" width="2.29" height="2.29" fill="#fff" stroke="#4a68a8" stroke-width="0.8"/>
<text x="47.90" y="360.01" font-size="5.1" text-anchor="start" font-weight="normal" fill="#222" stroke="#222" stroke-width="0.2" >0.1&#181;M DAC</text>
<circle cx="44.00" cy="365.84" r="1.19" fill="#fff" stroke="#76b552" stroke-width="0.8"/>
<text x="47.90" y="367.68" font-size="5.1" text-anchor="start" font-weight="normal" fill="#222" stroke="#222" stroke-width="0.2" >0.2&#181;M DAC</text>
<path d="M42.64 372.42 H45.36 L44.00 374.87 Z" fill="#fff" stroke="#6d4893" stroke-width="0.8"/>
<text x="47.90" y="375.35" font-size="5.1" text-anchor="start" font-weight="normal" fill="#222" stroke="#222" stroke-width="0.2" >0.3&#181;M DAC</text>
<circle cx="303.80" cy="350.50" r="0.98" fill="#c42d4f"/>
<text x="307.70" y="352.34" font-size="5.1" text-anchor="start" font-weight="normal" fill="#222" stroke="#222" stroke-width="0.2" >Trichostatin A alone</text>
<rect x="302.65" y="357.02" width="2.29" height="2.29" fill="#fff" stroke="#4a68a8" stroke-width="0.8"/>
<text x="307.70" y="360.01" font-size="5.1" text-anchor="start" font-weight="normal" fill="#222" stroke="#222" stroke-width="0.2" >0.05&#181;M DAC</text>
<circle cx="303.80" cy="365.84" r="1.19" fill="#fff" stroke="#76b552" stroke-width="0.8"/>
<text x="307.70" y="367.68" font-size="5.1" text-anchor="start" font-weight="normal" fill="#222" stroke="#222" stroke-width="0.2" >0.1&#181;M DAC</text>
<path d="M302.44 372.42 H305.16 L303.80 374.87 Z" fill="#fff" stroke="#6d4893" stroke-width="0.8"/>
<text x="307.70" y="375.35" font-size="5.1" text-anchor="start" font-weight="normal" fill="#222" stroke="#222" stroke-width="0.2" >0.2&#181;M DAC</text>
<rect x="184.50" y="38.50" width="68.00" height="18.00" fill="#fff"/>
<text x="195.84" y="46.35" font-size="5.4" text-anchor="middle" font-weight="normal" fill="#222" stroke="#222" stroke-width="0.05" >DAC</text>
<text x="195.84" y="53.35" font-size="5.4" text-anchor="middle" font-weight="normal" fill="#222" stroke="#222" stroke-width="0.05" >0.1&#181;M</text>
<text x="218.51" y="46.35" font-size="5.4" text-anchor="middle" font-weight="normal" fill="#222" stroke="#222" stroke-width="0.05" >DAC</text>
<text x="218.51" y="53.35" font-size="5.4" text-anchor="middle" font-weight="normal" fill="#222" stroke="#222" stroke-width="0.05" >0.2&#181;M</text>
<text x="241.18" y="46.35" font-size="5.4" text-anchor="middle" font-weight="normal" fill="#222" stroke="#222" stroke-width="0.05" >DAC</text>
<text x="241.18" y="53.35" font-size="5.4" text-anchor="middle" font-weight="normal" fill="#222" stroke="#222" stroke-width="0.05" >0.3&#181;M</text>
<rect x="147.50" y="56.50" width="37.00" height="9.00" fill="#fff"/>
<text x="181.90" y="62.90" font-size="5.3" text-anchor="end" font-weight="normal" fill="#222" stroke="#222" stroke-width="0.05" >BTZ 0.5nM</text>
<rect x="184.50" y="56.50" width="23.00" height="9.00" fill="#2e4d80"/>
<text x="196.00" y="62.90" font-size="5.3" text-anchor="middle" font-weight="normal" fill="#fff" >1.05</text>
<rect x="207.50" y="56.50" width="22.00" height="9.00" fill="#2e4d80"/>
<text x="218.50" y="62.90" font-size="5.3" text-anchor="middle" font-weight="normal" fill="#fff" >1.23</text>
<rect x="229.50" y="56.50" width="23.00" height="9.00" fill="#2e4d80"/>
<text x="241.00" y="62.90" font-size="5.3" text-anchor="middle" font-weight="normal" fill="#fff" >3.1</text>
<rect x="147.50" y="65.50" width="37.00" height="9.00" fill="#fff"/>
<text x="181.90" y="71.90" font-size="5.3" text-anchor="end" font-weight="normal" fill="#222" stroke="#222" stroke-width="0.05" >BTZ 1nM</text>
<rect x="184.50" y="65.50" width="23.00" height="9.00" fill="#2e4d80"/>
<text x="196.00" y="71.90" font-size="5.3" text-anchor="middle" font-weight="normal" fill="#fff" >1.57</text>
<rect x="207.50" y="65.50" width="22.00" height="9.00" fill="#2e4d80"/>
<text x="218.50" y="71.90" font-size="5.3" text-anchor="middle" font-weight="normal" fill="#fff" >1.45</text>
<rect x="229.50" y="65.50" width="23.00" height="9.00" fill="#2e4d80"/>
<text x="241.00" y="71.90" font-size="5.3" text-anchor="middle" font-weight="normal" fill="#fff" >1.46</text>
<rect x="147.50" y="74.50" width="37.00" height="8.00" fill="#fff"/>
<text x="181.90" y="80.40" font-size="5.3" text-anchor="end" font-weight="normal" fill="#222" stroke="#222" stroke-width="0.05" >BTZ 2nM</text>
<rect x="184.50" y="74.50" width="23.00" height="8.00" fill="#2e4d80"/>
<text x="196.00" y="80.40" font-size="5.3" text-anchor="middle" font-weight="normal" fill="#fff" >2.41</text>
<rect x="207.50" y="74.50" width="22.00" height="8.00" fill="#2e4d80"/>
<text x="218.50" y="80.40" font-size="5.3" text-anchor="middle" font-weight="normal" fill="#fff" >0.5</text>
<rect x="229.50" y="74.50" width="23.00" height="8.00" fill="#6aace4"/>
<text x="241.00" y="80.40" font-size="5.3" text-anchor="middle" font-weight="normal" fill="#fff" >0.93</text>
<rect x="147.50" y="82.50" width="37.00" height="9.00" fill="#fff"/>
<text x="181.90" y="88.90" font-size="5.3" text-anchor="end" font-weight="normal" fill="#222" stroke="#222" stroke-width="0.05" >BTZ 3nM</text>
<rect x="184.50" y="82.50" width="23.00" height="9.00" fill="#2e4d80"/>
<text x="196.00" y="88.90" font-size="5.3" text-anchor="middle" font-weight="normal" fill="#fff" >1.51</text>
<rect x="207.50" y="82.50" width="22.00" height="9.00" fill="#6aace4"/>
<text x="218.50" y="88.90" font-size="5.3" text-anchor="middle" font-weight="normal" fill="#fff" >1.0</text>
<rect x="229.50" y="82.50" width="23.00" height="9.00" fill="#64a842"/>
<text x="241.00" y="88.90" font-size="5.3" text-anchor="middle" font-weight="normal" fill="#fff" >0.65</text>
<rect x="147.50" y="91.50" width="37.00" height="9.00" fill="#fff"/>
<text x="181.90" y="97.90" font-size="5.3" text-anchor="end" font-weight="normal" fill="#222" stroke="#222" stroke-width="0.05" >BTZ 4nM</text>
<rect x="184.50" y="91.50" width="23.00" height="9.00" fill="#6aace4"/>
<text x="196.00" y="97.90" font-size="5.3" text-anchor="middle" font-weight="normal" fill="#fff" >0.95</text>
<rect x="207.50" y="91.50" width="22.00" height="9.00" fill="#64a842"/>
<text x="218.50" y="97.90" font-size="5.3" text-anchor="middle" font-weight="normal" fill="#fff" >0.56</text>
<rect x="229.50" y="91.50" width="23.00" height="9.00" fill="#64a842"/>
<text x="241.00" y="97.90" font-size="5.3" text-anchor="middle" font-weight="normal" fill="#fff" >0.14</text>
<rect x="147.50" y="100.50" width="37.00" height="9.00" fill="#fff"/>
<text x="181.90" y="106.90" font-size="5.3" text-anchor="end" font-weight="normal" fill="#222" stroke="#222" stroke-width="0.05" >BTZ 5nM</text>
<rect x="184.50" y="100.50" width="23.00" height="9.00" fill="#64a842"/>
<text x="196.00" y="106.90" font-size="5.3" text-anchor="middle" font-weight="normal" fill="#fff" >0.75</text>
<rect x="207.50" y="100.50" width="22.00" height="9.00" fill="#64a842"/>
<text x="218.50" y="106.90" font-size="5.3" text-anchor="middle" font-weight="normal" fill="#fff" >0.68</text>
<rect x="229.50" y="100.50" width="23.00" height="9.00" fill="#64a842"/>
<text x="241.00" y="106.90" font-size="5.3" text-anchor="middle" font-weight="normal" fill="#fff" >0.53</text>
<rect x="147.50" y="109.50" width="37.00" height="9.00" fill="#fff"/>
<text x="181.90" y="115.90" font-size="5.3" text-anchor="end" font-weight="normal" fill="#222" stroke="#222" stroke-width="0.05" >BTZ 7nM</text>
<rect x="184.50" y="109.50" width="23.00" height="9.00" fill="#64a842"/>
<text x="196.00" y="115.90" font-size="5.3" text-anchor="middle" font-weight="normal" fill="#fff" >0.68</text>
<rect x="207.50" y="109.50" width="22.00" height="9.00" fill="#64a842"/>
<text x="218.50" y="115.90" font-size="5.3" text-anchor="middle" font-weight="normal" fill="#fff" >0.38</text>
<rect x="229.50" y="109.50" width="23.00" height="9.00" fill="#64a842"/>
<text x="241.00" y="115.90" font-size="5.3" text-anchor="middle" font-weight="normal" fill="#fff" >0.38</text>
<rect x="147.50" y="118.50" width="37.00" height="9.00" fill="#fff"/>
<text x="181.90" y="124.90" font-size="5.3" text-anchor="end" font-weight="normal" fill="#222" stroke="#222" stroke-width="0.05" >BTZ 9nM</text>
<rect x="184.50" y="118.50" width="23.00" height="9.00" fill="#64a842"/>
<text x="196.00" y="124.90" font-size="5.3" text-anchor="middle" font-weight="normal" fill="#fff" >0.49</text>
<rect x="207.50" y="118.50" width="22.00" height="9.00" fill="#64a842"/>
<text x="218.50" y="124.90" font-size="5.3" text-anchor="middle" font-weight="normal" fill="#fff" >0.48</text>
<rect x="229.50" y="118.50" width="23.00" height="9.00" fill="#64a842"/>
<text x="241.00" y="124.90" font-size="5.3" text-anchor="middle" font-weight="normal" fill="#fff" >0.49</text>
<path d="M184.50 38.50 H252.50 M184.50 38.50 V127.50 M207.50 38.50 V127.50 M229.50 38.50 V127.50 M252.50 38.50 V127.50 M147.50 56.50 V127.50 M147.50 56.50 H252.50 M147.50 65.50 H252.50 M147.50 74.50 H252.50 M147.50 82.50 H252.50 M147.50 91.50 H252.50 M147.50 100.50 H252.50 M147.50 109.50 H252.50 M147.50 118.50 H252.50 M147.50 127.50 H252.50" stroke="#1a1a1a" stroke-width="1" fill="none"/>
<rect x="445.50" y="38.50" width="68.00" height="19.00" fill="#fff"/>
<text x="456.33" y="46.35" font-size="5.4" text-anchor="middle" font-weight="normal" fill="#222" stroke="#222" stroke-width="0.05" >DAC</text>
<text x="456.33" y="53.35" font-size="5.4" text-anchor="middle" font-weight="normal" fill="#222" stroke="#222" stroke-width="0.05" >0.05&#181;M</text>
<text x="479.00" y="46.35" font-size="5.4" text-anchor="middle" font-weight="normal" fill="#222" stroke="#222" stroke-width="0.05" >DAC</text>
<text x="479.00" y="53.35" font-size="5.4" text-anchor="middle" font-weight="normal" fill="#222" stroke="#222" stroke-width="0.05" >0.1&#181;M</text>
<text x="501.68" y="46.35" font-size="5.4" text-anchor="middle" font-weight="normal" fill="#222" stroke="#222" stroke-width="0.05" >DAC</text>
<text x="501.68" y="53.35" font-size="5.4" text-anchor="middle" font-weight="normal" fill="#222" stroke="#222" stroke-width="0.05" >0.2&#181;M</text>
<rect x="408.50" y="57.50" width="37.00" height="8.00" fill="#fff"/>
<text x="442.40" y="63.40" font-size="5.3" text-anchor="end" font-weight="normal" fill="#222" stroke="#222" stroke-width="0.05" >BTZ 0.5nM</text>
<rect x="445.50" y="57.50" width="22.00" height="8.00" fill="#2e4d80"/>
<text x="456.50" y="63.40" font-size="5.3" text-anchor="middle" font-weight="normal" fill="#fff" >1.54</text>
<rect x="467.50" y="57.50" width="23.00" height="8.00" fill="#6aace4"/>
<text x="479.00" y="63.40" font-size="5.3" text-anchor="middle" font-weight="normal" fill="#fff" >0.97</text>
<rect x="490.50" y="57.50" width="23.00" height="8.00" fill="#2e4d80"/>
<text x="502.00" y="63.40" font-size="5.3" text-anchor="middle" font-weight="normal" fill="#fff" >1.14</text>
<rect x="408.50" y="65.50" width="37.00" height="9.00" fill="#fff"/>
<text x="442.40" y="71.90" font-size="5.3" text-anchor="end" font-weight="normal" fill="#222" stroke="#222" stroke-width="0.05" >BTZ 1nM</text>
<rect x="445.50" y="65.50" width="22.00" height="9.00" fill="#2e4d80"/>
<text x="456.50" y="71.90" font-size="5.3" text-anchor="middle" font-weight="normal" fill="#fff" >1.76</text>
<rect x="467.50" y="65.50" width="23.00" height="9.00" fill="#2e4d80"/>
<text x="479.00" y="71.90" font-size="5.3" text-anchor="middle" font-weight="normal" fill="#fff" >1.11</text>
<rect x="490.50" y="65.50" width="23.00" height="9.00" fill="#2e4d80"/>
<text x="502.00" y="71.90" font-size="5.3" text-anchor="middle" font-weight="normal" fill="#fff" >1.52</text>
<rect x="408.50" y="74.50" width="37.00" height="9.00" fill="#fff"/>
<text x="442.40" y="80.90" font-size="5.3" text-anchor="end" font-weight="normal" fill="#222" stroke="#222" stroke-width="0.05" >BTZ 2nM</text>
<rect x="445.50" y="74.50" width="22.00" height="9.00" fill="#2e4d80"/>
<text x="456.50" y="80.90" font-size="5.3" text-anchor="middle" font-weight="normal" fill="#fff" >1.89</text>
<rect x="467.50" y="74.50" width="23.00" height="9.00" fill="#2e4d80"/>
<text x="479.00" y="80.90" font-size="5.3" text-anchor="middle" font-weight="normal" fill="#fff" >1.31</text>
<rect x="490.50" y="74.50" width="23.00" height="9.00" fill="#2e4d80"/>
<text x="502.00" y="80.90" font-size="5.3" text-anchor="middle" font-weight="normal" fill="#fff" >1.31</text>
<rect x="408.50" y="83.50" width="37.00" height="9.00" fill="#fff"/>
<text x="442.40" y="89.90" font-size="5.3" text-anchor="end" font-weight="normal" fill="#222" stroke="#222" stroke-width="0.05" >BTZ 3nM</text>
<rect x="445.50" y="83.50" width="22.00" height="9.00" fill="#2e4d80"/>
<text x="456.50" y="89.90" font-size="5.3" text-anchor="middle" font-weight="normal" fill="#fff" >1.37</text>
<rect x="467.50" y="83.50" width="23.00" height="9.00" fill="#6aace4"/>
<text x="479.00" y="89.90" font-size="5.3" text-anchor="middle" font-weight="normal" fill="#fff" >1.10</text>
<rect x="490.50" y="83.50" width="23.00" height="9.00" fill="#2e4d80"/>
<text x="502.00" y="89.90" font-size="5.3" text-anchor="middle" font-weight="normal" fill="#fff" >1.67</text>
<rect x="408.50" y="92.50" width="37.00" height="9.00" fill="#fff"/>
<text x="442.40" y="98.90" font-size="5.3" text-anchor="end" font-weight="normal" fill="#222" stroke="#222" stroke-width="0.05" >BTZ 4nM</text>
<rect x="445.50" y="92.50" width="22.00" height="9.00" fill="#6aace4"/>
<text x="456.50" y="98.90" font-size="5.3" text-anchor="middle" font-weight="normal" fill="#fff" >0.91</text>
<rect x="467.50" y="92.50" width="23.00" height="9.00" fill="#64a842"/>
<text x="479.00" y="98.90" font-size="5.3" text-anchor="middle" font-weight="normal" fill="#fff" >0.74</text>
<rect x="490.50" y="92.50" width="23.00" height="9.00" fill="#64a842"/>
<text x="502.00" y="98.90" font-size="5.3" text-anchor="middle" font-weight="normal" fill="#fff" >0.70</text>
<rect x="408.50" y="101.50" width="37.00" height="8.00" fill="#fff"/>
<text x="442.40" y="107.40" font-size="5.3" text-anchor="end" font-weight="normal" fill="#222" stroke="#222" stroke-width="0.05" >BTZ 5nM</text>
<rect x="445.50" y="101.50" width="22.00" height="8.00" fill="#64a842"/>
<text x="456.50" y="107.40" font-size="5.3" text-anchor="middle" font-weight="normal" fill="#fff" >0.39</text>
<rect x="467.50" y="101.50" width="23.00" height="8.00" fill="#64a842"/>
<text x="479.00" y="107.40" font-size="5.3" text-anchor="middle" font-weight="normal" fill="#fff" >0.41</text>
<rect x="490.50" y="101.50" width="23.00" height="8.00" fill="#64a842"/>
<text x="502.00" y="107.40" font-size="5.3" text-anchor="middle" font-weight="normal" fill="#fff" >0.45</text>
<rect x="408.50" y="109.50" width="37.00" height="9.00" fill="#fff"/>
<text x="442.40" y="115.90" font-size="5.3" text-anchor="end" font-weight="normal" fill="#222" stroke="#222" stroke-width="0.05" >BTZ 7nM</text>
<rect x="445.50" y="109.50" width="22.00" height="9.00" fill="#64a842"/>
<text x="456.50" y="115.90" font-size="5.3" text-anchor="middle" font-weight="normal" fill="#fff" >0.54</text>
<rect x="467.50" y="109.50" width="23.00" height="9.00" fill="#64a842"/>
<text x="479.00" y="115.90" font-size="5.3" text-anchor="middle" font-weight="normal" fill="#fff" >0.56</text>
<rect x="490.50" y="109.50" width="23.00" height="9.00" fill="#64a842"/>
<text x="502.00" y="115.90" font-size="5.3" text-anchor="middle" font-weight="normal" fill="#fff" >0.60</text>
<rect x="408.50" y="118.50" width="37.00" height="9.00" fill="#fff"/>
<text x="442.40" y="124.90" font-size="5.3" text-anchor="end" font-weight="normal" fill="#222" stroke="#222" stroke-width="0.05" >BTZ 9nM</text>
<rect x="445.50" y="118.50" width="22.00" height="9.00" fill="#64a842"/>
<text x="456.50" y="124.90" font-size="5.3" text-anchor="middle" font-weight="normal" fill="#fff" >0.69</text>
<rect x="467.50" y="118.50" width="23.00" height="9.00" fill="#64a842"/>
<text x="479.00" y="124.90" font-size="5.3" text-anchor="middle" font-weight="normal" fill="#fff" >0.71</text>
<rect x="490.50" y="118.50" width="23.00" height="9.00" fill="#64a842"/>
<text x="502.00" y="124.90" font-size="5.3" text-anchor="middle" font-weight="normal" fill="#fff" >0.75</text>
<path d="M445.50 38.50 H513.50 M445.50 38.50 V127.50 M467.50 38.50 V127.50 M490.50 38.50 V127.50 M513.50 38.50 V127.50 M408.50 57.50 V127.50 M408.50 57.50 H513.50 M408.50 65.50 H513.50 M408.50 74.50 H513.50 M408.50 83.50 H513.50 M408.50 92.50 H513.50 M408.50 101.50 H513.50 M408.50 109.50 H513.50 M408.50 118.50 H513.50 M408.50 127.50 H513.50" stroke="#1a1a1a" stroke-width="1" fill="none"/>
<rect x="184.50" y="362.50" width="68.00" height="17.00" fill="#fff"/>
<text x="195.84" y="369.60" font-size="5.4" text-anchor="middle" font-weight="normal" fill="#222" stroke="#222" stroke-width="0.05" >DAC</text>
<text x="195.84" y="376.60" font-size="5.4" text-anchor="middle" font-weight="normal" fill="#222" stroke="#222" stroke-width="0.05" >0.1&#181;M</text>
<text x="218.51" y="369.60" font-size="5.4" text-anchor="middle" font-weight="normal" fill="#222" stroke="#222" stroke-width="0.05" >DAC</text>
<text x="218.51" y="376.60" font-size="5.4" text-anchor="middle" font-weight="normal" fill="#222" stroke="#222" stroke-width="0.05" >0.2&#181;M</text>
<text x="241.18" y="369.60" font-size="5.4" text-anchor="middle" font-weight="normal" fill="#222" stroke="#222" stroke-width="0.05" >DAC</text>
<text x="241.18" y="376.60" font-size="5.4" text-anchor="middle" font-weight="normal" fill="#222" stroke="#222" stroke-width="0.05" >0.3&#181;M</text>
<rect x="147.50" y="379.50" width="37.00" height="9.00" fill="#fff"/>
<text x="181.90" y="385.90" font-size="5.3" text-anchor="end" font-weight="normal" fill="#222" stroke="#222" stroke-width="0.05" >TSA 50nM</text>
<rect x="184.50" y="379.50" width="23.00" height="9.00" fill="#6aace4"/>
<text x="196.00" y="385.90" font-size="5.3" text-anchor="middle" font-weight="normal" fill="#fff" >0.97</text>
<rect x="207.50" y="379.50" width="22.00" height="9.00" fill="#2e4d80"/>
<text x="218.50" y="385.90" font-size="5.3" text-anchor="middle" font-weight="normal" fill="#fff" >1.19</text>
<rect x="229.50" y="379.50" width="23.00" height="9.00" fill="#64a842"/>
<text x="241.00" y="385.90" font-size="5.3" text-anchor="middle" font-weight="normal" fill="#fff" >0.89</text>
<rect x="147.50" y="388.50" width="37.00" height="9.00" fill="#fff"/>
<text x="181.90" y="394.90" font-size="5.3" text-anchor="end" font-weight="normal" fill="#222" stroke="#222" stroke-width="0.05" >TSA 100nM</text>
<rect x="184.50" y="388.50" width="23.00" height="9.00" fill="#2e4d80"/>
<text x="196.00" y="394.90" font-size="5.3" text-anchor="middle" font-weight="normal" fill="#fff" >1.67</text>
<rect x="207.50" y="388.50" width="22.00" height="9.00" fill="#6aace4"/>
<text x="218.50" y="394.90" font-size="5.3" text-anchor="middle" font-weight="normal" fill="#fff" >0.93</text>
<rect x="229.50" y="388.50" width="23.00" height="9.00" fill="#64a842"/>
<text x="241.00" y="394.90" font-size="5.3" text-anchor="middle" font-weight="normal" fill="#fff" >0.80</text>
<rect x="147.50" y="397.50" width="37.00" height="8.00" fill="#fff"/>
<text x="181.90" y="403.40" font-size="5.3" text-anchor="end" font-weight="normal" fill="#222" stroke="#222" stroke-width="0.05" >TSA 200nM</text>
<rect x="184.50" y="397.50" width="23.00" height="8.00" fill="#6aace4"/>
<text x="196.00" y="403.40" font-size="5.3" text-anchor="middle" font-weight="normal" fill="#fff" >1.08</text>
<rect x="207.50" y="397.50" width="22.00" height="8.00" fill="#64a842"/>
<text x="218.50" y="403.40" font-size="5.3" text-anchor="middle" font-weight="normal" fill="#fff" >0.89</text>
<rect x="229.50" y="397.50" width="23.00" height="8.00" fill="#64a842"/>
<text x="241.00" y="403.40" font-size="5.3" text-anchor="middle" font-weight="normal" fill="#fff" >0.78</text>
<rect x="147.50" y="405.50" width="37.00" height="9.00" fill="#fff"/>
<text x="181.90" y="411.90" font-size="5.3" text-anchor="end" font-weight="normal" fill="#222" stroke="#222" stroke-width="0.05" >TSA 300nM</text>
<rect x="184.50" y="405.50" width="23.00" height="9.00" fill="#64a842"/>
<text x="196.00" y="411.90" font-size="5.3" text-anchor="middle" font-weight="normal" fill="#fff" >0.87</text>
<rect x="207.50" y="405.50" width="22.00" height="9.00" fill="#64a842"/>
<text x="218.50" y="411.90" font-size="5.3" text-anchor="middle" font-weight="normal" fill="#fff" >0.65</text>
<rect x="229.50" y="405.50" width="23.00" height="9.00" fill="#64a842"/>
<text x="241.00" y="411.90" font-size="5.3" text-anchor="middle" font-weight="normal" fill="#fff" >0.56</text>
<rect x="147.50" y="414.50" width="37.00" height="9.00" fill="#fff"/>
<text x="181.90" y="420.90" font-size="5.3" text-anchor="end" font-weight="normal" fill="#222" stroke="#222" stroke-width="0.05" >TSA 400nM</text>
<rect x="184.50" y="414.50" width="23.00" height="9.00" fill="#64a842"/>
<text x="196.00" y="420.90" font-size="5.3" text-anchor="middle" font-weight="normal" fill="#fff" >0.57</text>
<rect x="207.50" y="414.50" width="22.00" height="9.00" fill="#64a842"/>
<text x="218.50" y="420.90" font-size="5.3" text-anchor="middle" font-weight="normal" fill="#fff" >0.21</text>
<rect x="229.50" y="414.50" width="23.00" height="9.00" fill="#64a842"/>
<text x="241.00" y="420.90" font-size="5.3" text-anchor="middle" font-weight="normal" fill="#fff" >0.22</text>
<rect x="147.50" y="423.50" width="37.00" height="9.00" fill="#fff"/>
<text x="181.90" y="429.90" font-size="5.3" text-anchor="end" font-weight="normal" fill="#222" stroke="#222" stroke-width="0.05" >TSA 600nM</text>
<rect x="184.50" y="423.50" width="23.00" height="9.00" fill="#64a842"/>
<text x="196.00" y="429.90" font-size="5.3" text-anchor="middle" font-weight="normal" fill="#fff" >0.60</text>
<rect x="207.50" y="423.50" width="22.00" height="9.00" fill="#64a842"/>
<text x="218.50" y="429.90" font-size="5.3" text-anchor="middle" font-weight="normal" fill="#fff" >0.31</text>
<rect x="229.50" y="423.50" width="23.00" height="9.00" fill="#64a842"/>
<text x="241.00" y="429.90" font-size="5.3" text-anchor="middle" font-weight="normal" fill="#fff" >0.32</text>
<rect x="147.50" y="432.50" width="37.00" height="9.00" fill="#fff"/>
<text x="181.90" y="438.90" font-size="5.3" text-anchor="end" font-weight="normal" fill="#222" stroke="#222" stroke-width="0.05" >TSA 800nM</text>
<rect x="184.50" y="432.50" width="23.00" height="9.00" fill="#64a842"/>
<text x="196.00" y="438.90" font-size="5.3" text-anchor="middle" font-weight="normal" fill="#fff" >0.39</text>
<rect x="207.50" y="432.50" width="22.00" height="9.00" fill="#64a842"/>
<text x="218.50" y="438.90" font-size="5.3" text-anchor="middle" font-weight="normal" fill="#fff" >0.42</text>
<rect x="229.50" y="432.50" width="23.00" height="9.00" fill="#64a842"/>
<text x="241.00" y="438.90" font-size="5.3" text-anchor="middle" font-weight="normal" fill="#fff" >0.41</text>
<rect x="147.50" y="441.50" width="37.00" height="8.00" fill="#fff"/>
<text x="181.90" y="447.40" font-size="5.3" text-anchor="end" font-weight="normal" fill="#222" stroke="#222" stroke-width="0.05" >TSA 1000nM</text>
<rect x="184.50" y="441.50" width="23.00" height="8.00" fill="#64a842"/>
<text x="196.00" y="447.40" font-size="5.3" text-anchor="middle" font-weight="normal" fill="#fff" >0.49</text>
<rect x="207.50" y="441.50" width="22.00" height="8.00" fill="#64a842"/>
<text x="218.50" y="447.40" font-size="5.3" text-anchor="middle" font-weight="normal" fill="#fff" >0.23</text>
<rect x="229.50" y="441.50" width="23.00" height="8.00" fill="#64a842"/>
<text x="241.00" y="447.40" font-size="5.3" text-anchor="middle" font-weight="normal" fill="#fff" >0.51</text>
<path d="M184.50 362.50 H252.50 M184.50 362.50 V449.50 M207.50 362.50 V449.50 M229.50 362.50 V449.50 M252.50 362.50 V449.50 M147.50 379.50 V449.50 M147.50 379.50 H252.50 M147.50 388.50 H252.50 M147.50 397.50 H252.50 M147.50 405.50 H252.50 M147.50 414.50 H252.50 M147.50 423.50 H252.50 M147.50 432.50 H252.50 M147.50 441.50 H252.50 M147.50 449.50 H252.50" stroke="#1a1a1a" stroke-width="1" fill="none"/>
<rect x="445.50" y="362.50" width="68.00" height="17.00" fill="#fff"/>
<text x="456.83" y="369.60" font-size="5.4" text-anchor="middle" font-weight="normal" fill="#222" stroke="#222" stroke-width="0.05" >DAC</text>
<text x="456.83" y="376.60" font-size="5.4" text-anchor="middle" font-weight="normal" fill="#222" stroke="#222" stroke-width="0.05" >0.05&#181;M</text>
<text x="479.50" y="369.60" font-size="5.4" text-anchor="middle" font-weight="normal" fill="#222" stroke="#222" stroke-width="0.05" >DAC</text>
<text x="479.50" y="376.60" font-size="5.4" text-anchor="middle" font-weight="normal" fill="#222" stroke="#222" stroke-width="0.05" >0.1&#181;M</text>
<text x="502.18" y="369.60" font-size="5.4" text-anchor="middle" font-weight="normal" fill="#222" stroke="#222" stroke-width="0.05" >DAC</text>
<text x="502.18" y="376.60" font-size="5.4" text-anchor="middle" font-weight="normal" fill="#222" stroke="#222" stroke-width="0.05" >0.2&#181;M</text>
<rect x="408.50" y="379.50" width="37.00" height="9.00" fill="#fff"/>
<text x="442.90" y="385.90" font-size="5.3" text-anchor="end" font-weight="normal" fill="#222" stroke="#222" stroke-width="0.05" >TSA 50nM</text>
<rect x="445.50" y="379.50" width="23.00" height="9.00" fill="#2e4d80"/>
<text x="457.00" y="385.90" font-size="5.3" text-anchor="middle" font-weight="normal" fill="#fff" >2.76</text>
<rect x="468.50" y="379.50" width="22.00" height="9.00" fill="#6aace4"/>
<text x="479.50" y="385.90" font-size="5.3" text-anchor="middle" font-weight="normal" fill="#fff" >0.93</text>
<rect x="490.50" y="379.50" width="23.00" height="9.00" fill="#2e4d80"/>
<text x="502.00" y="385.90" font-size="5.3" text-anchor="middle" font-weight="normal" fill="#fff" >1.11</text>
<rect x="408.50" y="388.50" width="37.00" height="9.00" fill="#fff"/>
<text x="442.90" y="394.90" font-size="5.3" text-anchor="end" font-weight="normal" fill="#222" stroke="#222" stroke-width="0.05" >TSA 100nM</text>
<rect x="445.50" y="388.50" width="23.00" height="9.00" fill="#2e4d80"/>
<text x="457.00" y="394.90" font-size="5.3" text-anchor="middle" font-weight="normal" fill="#fff" >1.65</text>
<rect x="468.50" y="388.50" width="22.00" height="9.00" fill="#64a842"/>
<text x="479.50" y="394.90" font-size="5.3" text-anchor="middle" font-weight="normal" fill="#fff" >0.91</text>
<rect x="490.50" y="388.50" width="23.00" height="9.00" fill="#64a842"/>
<text x="502.00" y="394.90" font-size="5.3" text-anchor="middle" font-weight="normal" fill="#fff" >0.81</text>
<rect x="408.50" y="397.50" width="37.00" height="8.00" fill="#fff"/>
<text x="442.90" y="403.40" font-size="5.3" text-anchor="end" font-weight="normal" fill="#222" stroke="#222" stroke-width="0.05" >TSA 200nM</text>
<rect x="445.50" y="397.50" width="23.00" height="8.00" fill="#2e4d80"/>
<text x="457.00" y="403.40" font-size="5.3" text-anchor="middle" font-weight="normal" fill="#fff" >1.38</text>
<rect x="468.50" y="397.50" width="22.00" height="8.00" fill="#64a842"/>
<text x="479.50" y="403.40" font-size="5.3" text-anchor="middle" font-weight="normal" fill="#fff" >0.51</text>
<rect x="490.50" y="397.50" width="23.00" height="8.00" fill="#64a842"/>
<text x="502.00" y="403.40" font-size="5.3" text-anchor="middle" font-weight="normal" fill="#fff" >0.30</text>
<rect x="408.50" y="405.50" width="37.00" height="9.00" fill="#fff"/>
<text x="442.90" y="411.90" font-size="5.3" text-anchor="end" font-weight="normal" fill="#222" stroke="#222" stroke-width="0.05" >TSA 300nM</text>
<rect x="445.50" y="405.50" width="23.00" height="9.00" fill="#64a842"/>
<text x="457.00" y="411.90" font-size="5.3" text-anchor="middle" font-weight="normal" fill="#fff" >0.71</text>
<rect x="468.50" y="405.50" width="22.00" height="9.00" fill="#64a842"/>
<text x="479.50" y="411.90" font-size="5.3" text-anchor="middle" font-weight="normal" fill="#fff" >0.40</text>
<rect x="490.50" y="405.50" width="23.00" height="9.00" fill="#64a842"/>
<text x="502.00" y="411.90" font-size="5.3" text-anchor="middle" font-weight="normal" fill="#fff" >0.36</text>
<rect x="408.50" y="414.50" width="37.00" height="9.00" fill="#fff"/>
<text x="442.90" y="420.90" font-size="5.3" text-anchor="end" font-weight="normal" fill="#222" stroke="#222" stroke-width="0.05" >TSA 400nM</text>
<rect x="445.50" y="414.50" width="23.00" height="9.00" fill="#64a842"/>
<text x="457.00" y="420.90" font-size="5.3" text-anchor="middle" font-weight="normal" fill="#fff" >0.27</text>
<rect x="468.50" y="414.50" width="22.00" height="9.00" fill="#64a842"/>
<text x="479.50" y="420.90" font-size="5.3" text-anchor="middle" font-weight="normal" fill="#fff" >0.40</text>
<rect x="490.50" y="414.50" width="23.00" height="9.00" fill="#64a842"/>
<text x="502.00" y="420.90" font-size="5.3" text-anchor="middle" font-weight="normal" fill="#fff" >0.21</text>
<rect x="408.50" y="423.50" width="37.00" height="9.00" fill="#fff"/>
<text x="442.90" y="429.90" font-size="5.3" text-anchor="end" font-weight="normal" fill="#222" stroke="#222" stroke-width="0.05" >TSA 600nM</text>
<rect x="445.50" y="423.50" width="23.00" height="9.00" fill="#64a842"/>
<text x="457.00" y="429.90" font-size="5.3" text-anchor="middle" font-weight="normal" fill="#fff" >0.38</text>
<rect x="468.50" y="423.50" width="22.00" height="9.00" fill="#64a842"/>
<text x="479.50" y="429.90" font-size="5.3" text-anchor="middle" font-weight="normal" fill="#fff" >0.81</text>
<rect x="490.50" y="423.50" width="23.00" height="9.00" fill="#64a842"/>
<text x="502.00" y="429.90" font-size="5.3" text-anchor="middle" font-weight="normal" fill="#fff" >0.53</text>
<rect x="408.50" y="432.50" width="37.00" height="9.00" fill="#fff"/>
<text x="442.90" y="438.90" font-size="5.3" text-anchor="end" font-weight="normal" fill="#222" stroke="#222" stroke-width="0.05" >TSA 800nM</text>
<rect x="445.50" y="432.50" width="23.00" height="9.00" fill="#64a842"/>
<text x="457.00" y="438.90" font-size="5.3" text-anchor="middle" font-weight="normal" fill="#fff" >0.50</text>
<rect x="468.50" y="432.50" width="22.00" height="9.00" fill="#64a842"/>
<text x="479.50" y="438.90" font-size="5.3" text-anchor="middle" font-weight="normal" fill="#fff" >0.55</text>
<rect x="490.50" y="432.50" width="23.00" height="9.00" fill="#64a842"/>
<text x="502.00" y="438.90" font-size="5.3" text-anchor="middle" font-weight="normal" fill="#fff" >0.32</text>
<rect x="408.50" y="441.50" width="37.00" height="8.00" fill="#fff"/>
<text x="442.90" y="447.40" font-size="5.3" text-anchor="end" font-weight="normal" fill="#222" stroke="#222" stroke-width="0.05" >TSA 1000nM</text>
<rect x="445.50" y="441.50" width="23.00" height="8.00" fill="#64a842"/>
<text x="457.00" y="447.40" font-size="5.3" text-anchor="middle" font-weight="normal" fill="#fff" >0.61</text>
<rect x="468.50" y="441.50" width="22.00" height="8.00" fill="#64a842"/>
<text x="479.50" y="447.40" font-size="5.3" text-anchor="middle" font-weight="normal" fill="#fff" >0.66</text>
<rect x="490.50" y="441.50" width="23.00" height="8.00" fill="#64a842"/>
<text x="502.00" y="447.40" font-size="5.3" text-anchor="middle" font-weight="normal" fill="#fff" >0.76</text>
<path d="M445.50 362.50 H513.50 M445.50 362.50 V449.50 M468.50 362.50 V449.50 M490.50 362.50 V449.50 M513.50 362.50 V449.50 M408.50 379.50 V449.50 M408.50 379.50 H513.50 M408.50 388.50 H513.50 M408.50 397.50 H513.50 M408.50 405.50 H513.50 M408.50 414.50 H513.50 M408.50 423.50 H513.50 M408.50 432.50 H513.50 M408.50 441.50 H513.50 M408.50 449.50 H513.50" stroke="#1a1a1a" stroke-width="1" fill="none"/>
<rect x="188.50" y="130.00" width="15" height="7.00" fill="#2e4d80"/>
<text x="196.00" y="143.90" font-size="4.1" text-anchor="middle" font-weight="normal" fill="#333" stroke="#333" stroke-width="0.2" >Antagonism</text>
<text x="196.00" y="148.80" font-size="4.1" text-anchor="middle" font-weight="normal" fill="#333" stroke="#333" stroke-width="0.2" >CI&gt;1</text>
<rect x="211.00" y="130.00" width="15" height="7.00" fill="#6aace4"/>
<text x="218.50" y="143.90" font-size="4.1" text-anchor="middle" font-weight="normal" fill="#333" stroke="#333" stroke-width="0.2" >Additivity</text>
<text x="218.50" y="148.80" font-size="4.1" text-anchor="middle" font-weight="normal" fill="#333" stroke="#333" stroke-width="0.2" >CI=1</text>
<rect x="233.50" y="130.00" width="15" height="7.00" fill="#64a842"/>
<text x="241.00" y="143.90" font-size="4.1" text-anchor="middle" font-weight="normal" fill="#333" stroke="#333" stroke-width="0.2" >Synergy</text>
<text x="241.00" y="148.80" font-size="4.1" text-anchor="middle" font-weight="normal" fill="#333" stroke="#333" stroke-width="0.2" >CI&lt;1</text>
<rect x="449.00" y="130.00" width="15" height="7.00" fill="#2e4d80"/>
<text x="456.50" y="143.90" font-size="4.1" text-anchor="middle" font-weight="normal" fill="#333" stroke="#333" stroke-width="0.2" >Antagonism</text>
<text x="456.50" y="148.80" font-size="4.1" text-anchor="middle" font-weight="normal" fill="#333" stroke="#333" stroke-width="0.2" >CI&gt;1</text>
<rect x="471.75" y="130.00" width="15" height="7.00" fill="#6aace4"/>
<text x="479.25" y="143.90" font-size="4.1" text-anchor="middle" font-weight="normal" fill="#333" stroke="#333" stroke-width="0.2" >Additivity</text>
<text x="479.25" y="148.80" font-size="4.1" text-anchor="middle" font-weight="normal" fill="#333" stroke="#333" stroke-width="0.2" >CI=1</text>
<rect x="494.25" y="130.00" width="15" height="7.00" fill="#64a842"/>
<text x="501.75" y="143.90" font-size="4.1" text-anchor="middle" font-weight="normal" fill="#333" stroke="#333" stroke-width="0.2" >Synergy</text>
<text x="501.75" y="148.80" font-size="4.1" text-anchor="middle" font-weight="normal" fill="#333" stroke="#333" stroke-width="0.2" >CI&lt;1</text>
<rect x="188.50" y="453.50" width="15" height="7.25" fill="#2e4d80"/>
<text x="196.00" y="467.20" font-size="4.1" text-anchor="middle" font-weight="normal" fill="#333" stroke="#333" stroke-width="0.2" >Antagonism</text>
<text x="196.00" y="472.10" font-size="4.1" text-anchor="middle" font-weight="normal" fill="#333" stroke="#333" stroke-width="0.2" >CI&gt;1</text>
<rect x="211.00" y="453.50" width="15" height="7.25" fill="#6aace4"/>
<text x="218.50" y="467.20" font-size="4.1" text-anchor="middle" font-weight="normal" fill="#333" stroke="#333" stroke-width="0.2" >Additivity</text>
<text x="218.50" y="472.10" font-size="4.1" text-anchor="middle" font-weight="normal" fill="#333" stroke="#333" stroke-width="0.2" >CI=1</text>
<rect x="233.50" y="453.50" width="15" height="7.25" fill="#64a842"/>
<text x="241.00" y="467.20" font-size="4.1" text-anchor="middle" font-weight="normal" fill="#333" stroke="#333" stroke-width="0.2" >Synergy</text>
<text x="241.00" y="472.10" font-size="4.1" text-anchor="middle" font-weight="normal" fill="#333" stroke="#333" stroke-width="0.2" >CI&lt;1</text>
<rect x="449.00" y="453.50" width="15" height="7.25" fill="#2e4d80"/>
<text x="456.50" y="467.20" font-size="4.1" text-anchor="middle" font-weight="normal" fill="#333" stroke="#333" stroke-width="0.2" >Antagonism</text>
<text x="456.50" y="472.10" font-size="4.1" text-anchor="middle" font-weight="normal" fill="#333" stroke="#333" stroke-width="0.2" >CI&gt;1</text>
<rect x="471.75" y="453.50" width="15" height="7.25" fill="#6aace4"/>
<text x="479.25" y="467.20" font-size="4.1" text-anchor="middle" font-weight="normal" fill="#333" stroke="#333" stroke-width="0.2" >Additivity</text>
<text x="479.25" y="472.10" font-size="4.1" text-anchor="middle" font-weight="normal" fill="#333" stroke="#333" stroke-width="0.2" >CI=1</text>
<rect x="494.25" y="453.50" width="15" height="7.25" fill="#64a842"/>
<text x="501.75" y="467.20" font-size="4.1" text-anchor="middle" font-weight="normal" fill="#333" stroke="#333" stroke-width="0.2" >Synergy</text>
<text x="501.75" y="472.10" font-size="4.1" text-anchor="middle" font-weight="normal" fill="#333" stroke="#333" stroke-width="0.2" >CI&lt;1</text>
<text x="92.50" y="170.90" font-size="6.25" text-anchor="end" font-weight="normal" fill="#222" stroke="#222" stroke-width="0.2" >0.25 &#181;M DAC</text>
<path d="M103.20 168.80 H105.80" stroke="#333" stroke-width="0.7"/>
<path d="M119.40 168.80 H122.60 M121.00 167.20 V170.40" stroke="#333" stroke-width="0.7"/>
<path d="M136.20 168.80 H138.80" stroke="#333" stroke-width="0.7"/>
<path d="M152.70 168.80 H155.30" stroke="#333" stroke-width="0.7"/>
<path d="M169.30 168.80 H171.90" stroke="#333" stroke-width="0.7"/>
<path d="M185.60 168.80 H188.80 M187.20 167.20 V170.40" stroke="#333" stroke-width="0.7"/>
<path d="M202.10 168.80 H205.30 M203.70 167.20 V170.40" stroke="#333" stroke-width="0.7"/>
<path d="M218.90 168.80 H221.50" stroke="#333" stroke-width="0.7"/>
<path d="M235.50 168.80 H238.10" stroke="#333" stroke-width="0.7"/>
<text x="92.50" y="180.80" font-size="6.25" text-anchor="end" font-weight="normal" fill="#222" stroke="#222" stroke-width="0.2" >1.0 &#181;M DAC</text>
<path d="M103.20 178.70 H105.80" stroke="#333" stroke-width="0.7"/>
<path d="M119.70 178.70 H122.30" stroke="#333" stroke-width="0.7"/>
<path d="M135.90 178.70 H139.10 M137.50 177.10 V180.30" stroke="#333" stroke-width="0.7"/>
<path d="M152.70 178.70 H155.30" stroke="#333" stroke-width="0.7"/>
<path d="M169.30 178.70 H171.90" stroke="#333" stroke-width="0.7"/>
<path d="M185.90 178.70 H188.50" stroke="#333" stroke-width="0.7"/>
<path d="M202.40 178.70 H205.00" stroke="#333" stroke-width="0.7"/>
<path d="M218.60 178.70 H221.80 M220.20 177.10 V180.30" stroke="#333" stroke-width="0.7"/>
<path d="M235.20 178.70 H238.40 M236.80 177.10 V180.30" stroke="#333" stroke-width="0.7"/>
<text x="92.50" y="190.10" font-size="6.25" text-anchor="end" font-weight="normal" fill="#222" stroke="#222" stroke-width="0.2" >2 nM BTZ</text>
<path d="M103.20 188.00 H105.80" stroke="#333" stroke-width="0.7"/>
<path d="M119.70 188.00 H122.30" stroke="#333" stroke-width="0.7"/>
<path d="M136.20 188.00 H138.80" stroke="#333" stroke-width="0.7"/>
<path d="M152.40 188.00 H155.60 M154.00 186.40 V189.60" stroke="#333" stroke-width="0.7"/>
<path d="M169.30 188.00 H171.90" stroke="#333" stroke-width="0.7"/>
<path d="M185.60 188.00 H188.80 M187.20 186.40 V189.60" stroke="#333" stroke-width="0.7"/>
<path d="M202.40 188.00 H205.00" stroke="#333" stroke-width="0.7"/>
<path d="M218.60 188.00 H221.80 M220.20 186.40 V189.60" stroke="#333" stroke-width="0.7"/>
<path d="M235.50 188.00 H238.10" stroke="#333" stroke-width="0.7"/>
<text x="92.50" y="199.60" font-size="6.25" text-anchor="end" font-weight="normal" fill="#222" stroke="#222" stroke-width="0.2" >3 nM BTZ</text>
<path d="M103.20 197.50 H105.80" stroke="#333" stroke-width="0.7"/>
<path d="M119.70 197.50 H122.30" stroke="#333" stroke-width="0.7"/>
<path d="M136.20 197.50 H138.80" stroke="#333" stroke-width="0.7"/>
<path d="M152.70 197.50 H155.30" stroke="#333" stroke-width="0.7"/>
<path d="M169.00 197.50 H172.20 M170.60 195.90 V199.10" stroke="#333" stroke-width="0.7"/>
<path d="M185.90 197.50 H188.50" stroke="#333" stroke-width="0.7"/>
<path d="M202.10 197.50 H205.30 M203.70 195.90 V199.10" stroke="#333" stroke-width="0.7"/>
<path d="M218.90 197.50 H221.50" stroke="#333" stroke-width="0.7"/>
<path d="M235.20 197.50 H238.40 M236.80 195.90 V199.10" stroke="#333" stroke-width="0.7"/>
<rect x="95.70" y="204.30" width="155.90" height="28.70" fill="#e9e9e9" stroke="#999" stroke-width="0.8"/>
<text x="92.00" y="219.70" font-size="6.3" text-anchor="end" font-weight="normal" fill="#222" stroke="#222" stroke-width="0.2" >TAZ</text>
<text x="72.30" y="232.80" font-size="6.6" text-anchor="end" font-weight="normal" fill="#222" stroke="#222" stroke-width="0.2" >ns</text>
<path d="M75 230.8 H88.5" stroke="#333" stroke-width="1.3"/><path d="M92.3 230.7 L87.3 228.5 L87.3 232.9 Z" fill="#111"/>
<rect x="101.50" y="228.70" width="2.50" height="1.80" rx="0.90" fill="#000" opacity="0.35" filter="url(#fb)"/>
<rect x="107.00" y="228.80" width="2.00" height="1.60" rx="0.80" fill="#000" opacity="0.3" filter="url(#fb)"/>
<rect x="117.70" y="227.60" width="12.30" height="3.40" rx="1.70" fill="#000" opacity="0.95" filter="url(#fb)"/>
<rect x="131.90" y="226.50" width="14.90" height="5.40" rx="2.50" fill="#000" opacity="1" filter="url(#fb)"/>
<rect x="148.40" y="227.90" width="13.70" height="3.00" rx="1.50" fill="#000" opacity="0.9" filter="url(#fb)"/>
<rect x="165.00" y="227.20" width="13.30" height="3.40" rx="1.70" fill="#000" opacity="0.95" filter="url(#fb)"/>
<rect x="181.60" y="227.00" width="13.20" height="3.60" rx="1.80" fill="#000" opacity="0.95" filter="url(#fb)"/>
<rect x="198.90" y="226.70" width="11.60" height="2.60" rx="1.30" fill="#000" opacity="0.9" filter="url(#fb)"/>
<rect x="213.80" y="223.50" width="14.10" height="5.40" rx="2.50" fill="#000" opacity="1" filter="url(#fb)"/>
<rect x="231.20" y="221.40" width="13.20" height="4.80" rx="2.40" fill="#000" opacity="1" filter="url(#fb)"/>
<rect x="119.00" y="219.00" width="10.00" height="2.60" rx="1.30" fill="#000" opacity="0.15" filter="url(#fs)"/>
<rect x="133.00" y="217.60" width="13.00" height="4.00" rx="2.00" fill="#000" opacity="0.35" filter="url(#fs)"/>
<rect x="182.00" y="216.70" width="12.00" height="3.00" rx="1.50" fill="#000" opacity="0.22" filter="url(#fs)"/>
<rect x="199.00" y="216.20" width="11.50" height="2.80" rx="1.40" fill="#000" opacity="0.5" filter="url(#fs)"/>
<rect x="200.00" y="211.50" width="10.00" height="2.20" rx="1.10" fill="#000" opacity="0.25" filter="url(#fs)"/>
<rect x="214.50" y="214.30" width="12.50" height="4.20" rx="2.10" fill="#000" opacity="0.8" filter="url(#fs)"/>
<rect x="216.00" y="211.30" width="10.00" height="2.60" rx="1.30" fill="#000" opacity="0.45" filter="url(#fs)"/>
<rect x="231.50" y="211.50" width="13.00" height="4.60" rx="2.30" fill="#000" opacity="0.95" filter="url(#fs)"/>
<rect x="233.00" y="208.90" width="10.00" height="2.60" rx="1.30" fill="#000" opacity="0.5" filter="url(#fs)"/>
<circle cx="221.5" cy="213" r="0.8" fill="#000"/>
<text x="104.20" y="241.60" font-size="6.1" text-anchor="middle" font-weight="normal" fill="#222" stroke="#222" stroke-width="0.2" >1.0</text>
<text x="121.80" y="241.60" font-size="6.1" text-anchor="middle" font-weight="normal" fill="#222" stroke="#222" stroke-width="0.2" >1.9</text>
<text x="137.50" y="241.60" font-size="6.1" text-anchor="middle" font-weight="normal" fill="#222" stroke="#222" stroke-width="0.2" >3.0</text>
<text x="154.10" y="241.60" font-size="6.1" text-anchor="middle" font-weight="normal" fill="#222" stroke="#222" stroke-width="0.2" >0.6</text>
<text x="170.40" y="241.60" font-size="6.1" text-anchor="middle" font-weight="normal" fill="#222" stroke="#222" stroke-width="0.2" >0.8</text>
<text x="186.40" y="241.60" font-size="6.1" text-anchor="middle" font-weight="normal" fill="#222" stroke="#222" stroke-width="0.2" >2.4</text>
<text x="202.70" y="241.60" font-size="6.1" text-anchor="middle" font-weight="normal" fill="#222" stroke="#222" stroke-width="0.2" >4.8</text>
<text x="220.20" y="241.60" font-size="6.1" text-anchor="middle" font-weight="normal" fill="#222" stroke="#222" stroke-width="0.2" >7.3</text>
<text x="237.20" y="241.60" font-size="6.1" text-anchor="middle" font-weight="normal" fill="#222" stroke="#222" stroke-width="0.2" >15.0</text>
<rect x="96.20" y="245.90" width="155.10" height="20.50" fill="#f2f2f2" stroke="#aaa" stroke-width="0.8"/>
<text x="92.00" y="259.70" font-size="6.3" text-anchor="end" font-weight="normal" fill="#222" stroke="#222" stroke-width="0.2" >MYC</text>
<rect x="103.95" y="257.70" width="13.50" height="4.60" rx="2.30" fill="#000" opacity="0.95" filter="url(#fb)"/>
<rect x="120.65" y="257.70" width="13.50" height="4.60" rx="2.30" fill="#000" opacity="0.65" filter="url(#fb)"/>
<rect x="136.75" y="257.70" width="13.50" height="4.60" rx="2.30" fill="#000" opacity="0.06" filter="url(#fb)"/>
<rect x="151.85" y="257.70" width="13.50" height="4.60" rx="2.30" fill="#000" opacity="0.92" filter="url(#fb)"/>
<rect x="167.15" y="257.70" width="13.50" height="4.60" rx="2.30" fill="#000" opacity="0.55" filter="url(#fb)"/>
<rect x="182.25" y="257.70" width="13.50" height="4.60" rx="2.30" fill="#000" opacity="0.6" filter="url(#fb)"/>
<rect x="198.25" y="257.70" width="13.50" height="4.60" rx="2.30" fill="#000" opacity="0.8" filter="url(#fb)"/>
<rect x="214.95" y="257.70" width="13.50" height="4.60" rx="2.30" fill="#000" opacity="0.08" filter="url(#fb)"/>
<rect x="231.55" y="257.70" width="13.50" height="4.60" rx="2.30" fill="#000" opacity="0.13" filter="url(#fb)"/>
<rect x="104.70" y="249.75" width="12.00" height="3.50" rx="1.75" fill="#000" opacity="0.1" filter="url(#fs)"/>
<rect x="152.60" y="249.75" width="12.00" height="3.50" rx="1.75" fill="#000" opacity="0.08" filter="url(#fs)"/>
<rect x="232.30" y="249.75" width="12.00" height="3.50" rx="1.75" fill="#000" opacity="0.06" filter="url(#fs)"/>
<text x="109.80" y="275.90" font-size="6.1" text-anchor="middle" font-weight="normal" fill="#222" stroke="#222" stroke-width="0.2" >1.0</text>
<text x="125.40" y="275.90" font-size="6.1" text-anchor="middle" font-weight="normal" fill="#222" stroke="#222" stroke-width="0.2" >0.4</text>
<text x="141.20" y="275.90" font-size="6.1" text-anchor="middle" font-weight="normal" fill="#222" stroke="#222" stroke-width="0.2" >0.1</text>
<text x="157.00" y="275.90" font-size="6.1" text-anchor="middle" font-weight="normal" fill="#222" stroke="#222" stroke-width="0.2" >0.5</text>
<text x="173.00" y="275.90" font-size="6.1" text-anchor="middle" font-weight="normal" fill="#222" stroke="#222" stroke-width="0.2" >0.3</text>
<text x="188.80" y="275.90" font-size="6.1" text-anchor="middle" font-weight="normal" fill="#222" stroke="#222" stroke-width="0.2" >0.3</text>
<text x="205.00" y="275.90" font-size="6.1" text-anchor="middle" font-weight="normal" fill="#222" stroke="#222" stroke-width="0.2" >0.4</text>
<text x="221.20" y="275.90" font-size="6.1" text-anchor="middle" font-weight="normal" fill="#222" stroke="#222" stroke-width="0.2" >0.1</text>
<text x="238.00" y="275.90" font-size="6.1" text-anchor="middle" font-weight="normal" fill="#222" stroke="#222" stroke-width="0.2" >0.2</text>
<rect x="95.90" y="284.40" width="154.90" height="19.90" fill="#f6f6f6" stroke="#aaa" stroke-width="0.8"/>
<text x="92.00" y="294.70" font-size="6.3" text-anchor="end" font-weight="normal" fill="#222" stroke="#222" stroke-width="0.2" >&#946;-actin</text>
<rect x="101.70" y="292.80" width="13.80" height="3.60" rx="1.80" fill="#000" opacity="0.72" filter="url(#fb)"/>
<rect x="118.30" y="293.30" width="13.80" height="4.40" rx="2.20" fill="#000" opacity="0.92" filter="url(#fb)"/>
<rect x="134.40" y="294.30" width="13.80" height="3.80" rx="1.90" fill="#000" opacity="0.82" filter="url(#fb)"/>
<rect x="151.00" y="293.70" width="13.80" height="4.20" rx="2.10" fill="#000" opacity="0.95" filter="url(#fb)"/>
<rect x="166.10" y="293.80" width="13.80" height="4.00" rx="2.00" fill="#000" opacity="0.88" filter="url(#fb)"/>
<rect x="181.90" y="293.90" width="13.80" height="3.80" rx="1.90" fill="#000" opacity="0.8" filter="url(#fb)"/>
<rect x="197.50" y="293.90" width="13.80" height="3.80" rx="1.90" fill="#000" opacity="0.8" filter="url(#fb)"/>
<rect x="214.00" y="293.60" width="13.80" height="4.00" rx="2.00" fill="#000" opacity="0.95" filter="url(#fb)"/>
<rect x="231.70" y="292.80" width="13.80" height="3.00" rx="1.50" fill="#000" opacity="0.7" filter="url(#fb)"/>
<text x="350.50" y="171.60" font-size="6.25" text-anchor="end" font-weight="normal" fill="#222" stroke="#222" stroke-width="0.2" >0.05 &#181;M DAC</text>
<path d="M363.20 169.50 H365.80" stroke="#333" stroke-width="0.7"/>
<path d="M379.60 169.50 H382.80 M381.20 167.90 V171.10" stroke="#333" stroke-width="0.7"/>
<path d="M396.20 169.50 H398.80" stroke="#333" stroke-width="0.7"/>
<path d="M412.90 169.50 H415.50" stroke="#333" stroke-width="0.7"/>
<path d="M429.50 169.50 H432.10" stroke="#333" stroke-width="0.7"/>
<path d="M446.10 169.50 H449.30 M447.70 167.90 V171.10" stroke="#333" stroke-width="0.7"/>
<path d="M462.60 169.50 H465.80 M464.20 167.90 V171.10" stroke="#333" stroke-width="0.7"/>
<path d="M479.50 169.50 H482.10" stroke="#333" stroke-width="0.7"/>
<path d="M496.40 169.50 H499.00" stroke="#333" stroke-width="0.7"/>
<text x="350.50" y="181.40" font-size="6.25" text-anchor="end" font-weight="normal" fill="#222" stroke="#222" stroke-width="0.2" >0.25 &#181;M DAC</text>
<path d="M363.20 179.30 H365.80" stroke="#333" stroke-width="0.7"/>
<path d="M379.90 179.30 H382.50" stroke="#333" stroke-width="0.7"/>
<path d="M395.90 179.30 H399.10 M397.50 177.70 V180.90" stroke="#333" stroke-width="0.7"/>
<path d="M412.90 179.30 H415.50" stroke="#333" stroke-width="0.7"/>
<path d="M429.50 179.30 H432.10" stroke="#333" stroke-width="0.7"/>
<path d="M446.40 179.30 H449.00" stroke="#333" stroke-width="0.7"/>
<path d="M462.90 179.30 H465.50" stroke="#333" stroke-width="0.7"/>
<path d="M479.20 179.30 H482.40 M480.80 177.70 V180.90" stroke="#333" stroke-width="0.7"/>
<path d="M496.10 179.30 H499.30 M497.70 177.70 V180.90" stroke="#333" stroke-width="0.7"/>
<text x="350.50" y="190.90" font-size="6.25" text-anchor="end" font-weight="normal" fill="#222" stroke="#222" stroke-width="0.2" >2 nM BTZ</text>
<path d="M363.20 188.80 H365.80" stroke="#333" stroke-width="0.7"/>
<path d="M379.90 188.80 H382.50" stroke="#333" stroke-width="0.7"/>
<path d="M396.20 188.80 H398.80" stroke="#333" stroke-width="0.7"/>
<path d="M412.60 188.80 H415.80 M414.20 187.20 V190.40" stroke="#333" stroke-width="0.7"/>
<path d="M429.50 188.80 H432.10" stroke="#333" stroke-width="0.7"/>
<path d="M446.10 188.80 H449.30 M447.70 187.20 V190.40" stroke="#333" stroke-width="0.7"/>
<path d="M462.90 188.80 H465.50" stroke="#333" stroke-width="0.7"/>
<path d="M479.20 188.80 H482.40 M480.80 187.20 V190.40" stroke="#333" stroke-width="0.7"/>
<path d="M496.40 188.80 H499.00" stroke="#333" stroke-width="0.7"/>
<text x="350.50" y="200.40" font-size="6.25" text-anchor="end" font-weight="normal" fill="#222" stroke="#222" stroke-width="0.2" >3 nM BTZ</text>
<path d="M363.20 198.30 H365.80" stroke="#333" stroke-width="0.7"/>
<path d="M379.90 198.30 H382.50" stroke="#333" stroke-width="0.7"/>
<path d="M396.20 198.30 H398.80" stroke="#333" stroke-width="0.7"/>
<path d="M412.90 198.30 H415.50" stroke="#333" stroke-width="0.7"/>
<path d="M429.20 198.30 H432.40 M430.80 196.70 V199.90" stroke="#333" stroke-width="0.7"/>
<path d="M446.40 198.30 H449.00" stroke="#333" stroke-width="0.7"/>
<path d="M462.60 198.30 H465.80 M464.20 196.70 V199.90" stroke="#333" stroke-width="0.7"/>
<path d="M479.50 198.30 H482.10" stroke="#333" stroke-width="0.7"/>
<path d="M496.10 198.30 H499.30 M497.70 196.70 V199.90" stroke="#333" stroke-width="0.7"/>
<rect x="353.60" y="205.70" width="157.20" height="24.70" fill="#f7f7f7" stroke="#bbb" stroke-width="0.8"/>
<text x="350.50" y="223.20" font-size="6.3" text-anchor="end" font-weight="normal" fill="#222" stroke="#222" stroke-width="0.2" >TAZ</text>
<rect x="376.30" y="218.10" width="11.20" height="4.20" rx="2.10" fill="#000" opacity="0.6" filter="url(#fb)"/>
<rect x="376.30" y="218.40" width="4.70" height="3.60" rx="1.80" fill="#000" opacity="0.3" filter="url(#fb)"/>
<rect x="392.30" y="218.90" width="11.80" height="5.00" rx="2.50" fill="#000" opacity="0.95" filter="url(#fb)"/>
<rect x="399.00" y="219.35" width="5.50" height="4.50" rx="2.25" fill="#000" opacity="1" filter="url(#fb)"/>
<rect x="440.50" y="222.40" width="10.80" height="3.80" rx="1.90" fill="#000" opacity="0.7" filter="url(#fb)"/>
<rect x="456.70" y="222.10" width="12.10" height="3.80" rx="1.90" fill="#000" opacity="0.75" filter="url(#fb)"/>
<rect x="472.80" y="219.80" width="12.90" height="5.60" rx="2.50" fill="#000" opacity="1" filter="url(#fb)"/>
<rect x="490.60" y="219.10" width="12.90" height="3.80" rx="1.90" fill="#000" opacity="0.42" filter="url(#fb)"/>
<circle cx="502" cy="220" r="1.2" fill="#000" filter="url(#fb)"/>
<text x="362.80" y="239.10" font-size="6.1" text-anchor="middle" font-weight="normal" fill="#222" stroke="#222" stroke-width="0.2" >1.0</text>
<text x="379.70" y="239.10" font-size="6.1" text-anchor="middle" font-weight="normal" fill="#222" stroke="#222" stroke-width="0.2" >4.2</text>
<text x="395.70" y="239.10" font-size="6.1" text-anchor="middle" font-weight="normal" fill="#222" stroke="#222" stroke-width="0.2" >7.3</text>
<text x="412.60" y="239.10" font-size="6.1" text-anchor="middle" font-weight="normal" fill="#222" stroke="#222" stroke-width="0.2" >0.8</text>
<text x="428.90" y="239.10" font-size="6.1" text-anchor="middle" font-weight="normal" fill="#222" stroke="#222" stroke-width="0.2" >0.9</text>
<text x="445.80" y="239.10" font-size="6.1" text-anchor="middle" font-weight="normal" fill="#222" stroke="#222" stroke-width="0.2" >4.5</text>
<text x="462.20" y="239.10" font-size="6.1" text-anchor="middle" font-weight="normal" fill="#222" stroke="#222" stroke-width="0.2" >6.3</text>
<text x="479.70" y="239.10" font-size="6.1" text-anchor="middle" font-weight="normal" fill="#222" stroke="#222" stroke-width="0.2" >10.6</text>
<text x="496.00" y="239.10" font-size="6.1" text-anchor="middle" font-weight="normal" fill="#222" stroke="#222" stroke-width="0.2" >6.9</text>
<rect x="354.30" y="244.30" width="157.80" height="32.10" fill="#f4f4f4" stroke="#aaa" stroke-width="0.8"/>
<text x="350.50" y="263.50" font-size="6.3" text-anchor="end" font-weight="normal" fill="#222" stroke="#222" stroke-width="0.2" >MYC</text>
<rect x="359.90" y="258.90" width="15.00" height="10.30" rx="2.50" fill="#000" opacity="1" filter="url(#fb)"/>
<rect x="377.20" y="260.20" width="14.20" height="9.00" rx="2.50" fill="#000" opacity="1" filter="url(#fb)"/>
<rect x="394.60" y="262.90" width="12.60" height="4.90" rx="2.45" fill="#000" opacity="0.72" filter="url(#fb)"/>
<rect x="409.60" y="256.00" width="15.00" height="15.00" rx="2.50" fill="#000" opacity="1" filter="url(#fb)"/>
<rect x="426.50" y="258.50" width="14.00" height="10.70" rx="2.50" fill="#000" opacity="1" filter="url(#fb)"/>
<rect x="442.90" y="260.20" width="13.80" height="8.90" rx="2.50" fill="#000" opacity="1" filter="url(#fb)"/>
<rect x="459.00" y="261.80" width="13.30" height="5.80" rx="2.50" fill="#000" opacity="0.88" filter="url(#fb)"/>
<rect x="475.70" y="262.00" width="12.50" height="5.60" rx="2.50" fill="#000" opacity="0.62" filter="url(#fb)"/>
<rect x="492.20" y="261.50" width="12.40" height="6.50" rx="2.50" fill="#000" opacity="0.3" filter="url(#fb)"/>
<rect x="360.50" y="252.70" width="13.50" height="5.00" rx="2.50" fill="#000" opacity="0.6" filter="url(#fs)"/>
<rect x="377.50" y="252.70" width="13.50" height="5.00" rx="2.50" fill="#000" opacity="0.3" filter="url(#fs)"/>
<rect x="395.00" y="252.70" width="12.00" height="5.00" rx="2.50" fill="#000" opacity="0.1" filter="url(#fs)"/>
<rect x="410.00" y="252.70" width="14.00" height="5.00" rx="2.50" fill="#000" opacity="0.85" filter="url(#fs)"/>
<rect x="427.00" y="252.70" width="13.00" height="5.00" rx="2.50" fill="#000" opacity="0.55" filter="url(#fs)"/>
<rect x="443.00" y="252.70" width="13.00" height="5.00" rx="2.50" fill="#000" opacity="0.3" filter="url(#fs)"/>
<rect x="459.50" y="252.70" width="12.50" height="5.00" rx="2.50" fill="#000" opacity="0.22" filter="url(#fs)"/>
<rect x="476.00" y="252.70" width="12.00" height="5.00" rx="2.50" fill="#000" opacity="0.14" filter="url(#fs)"/>
<rect x="492.50" y="252.70" width="11.50" height="5.00" rx="2.50" fill="#000" opacity="0.08" filter="url(#fs)"/>
<text x="365.80" y="284.10" font-size="6.1" text-anchor="middle" font-weight="normal" fill="#222" stroke="#222" stroke-width="0.2" >1.0</text>
<text x="382.80" y="284.10" font-size="6.1" text-anchor="middle" font-weight="normal" fill="#222" stroke="#222" stroke-width="0.2" >0.8</text>
<text x="399.70" y="284.10" font-size="6.1" text-anchor="middle" font-weight="normal" fill="#222" stroke="#222" stroke-width="0.2" >0.4</text>
<text x="417.20" y="284.10" font-size="6.1" text-anchor="middle" font-weight="normal" fill="#222" stroke="#222" stroke-width="0.2" >1.4</text>
<text x="432.90" y="284.10" font-size="6.1" text-anchor="middle" font-weight="normal" fill="#222" stroke="#222" stroke-width="0.2" >1.1</text>
<text x="449.80" y="284.10" font-size="6.1" text-anchor="middle" font-weight="normal" fill="#222" stroke="#222" stroke-width="0.2" >0.8</text>
<text x="465.80" y="284.10" font-size="6.1" text-anchor="middle" font-weight="normal" fill="#222" stroke="#222" stroke-width="0.2" >0.5</text>
<text x="482.80" y="284.10" font-size="6.1" text-anchor="middle" font-weight="normal" fill="#222" stroke="#222" stroke-width="0.2" >0.3</text>
<text x="497.70" y="284.10" font-size="6.1" text-anchor="middle" font-weight="normal" fill="#222" stroke="#222" stroke-width="0.2" >0.2</text>
<rect x="354.50" y="287.60" width="157.10" height="27.40" fill="#f8f8f8" stroke="#bbb" stroke-width="0.8"/>
<text x="350.50" y="303.50" font-size="6.3" text-anchor="end" font-weight="normal" fill="#222" stroke="#222" stroke-width="0.2" >&#946;-actin</text>
<rect x="359.40" y="301.00" width="14.80" height="4.80" rx="2.40" fill="#000" opacity="1" filter="url(#fb)"/>
<rect x="375.80" y="301.90" width="15.40" height="5.40" rx="2.50" fill="#000" opacity="1" filter="url(#fb)"/>
<rect x="393.60" y="302.00" width="13.80" height="5.00" rx="2.50" fill="#000" opacity="1" filter="url(#fb)"/>
<rect x="410.10" y="301.50" width="13.40" height="5.40" rx="2.50" fill="#000" opacity="1" filter="url(#fb)"/>
<rect x="425.90" y="301.90" width="13.80" height="4.20" rx="2.10" fill="#000" opacity="1" filter="url(#fb)"/>
<rect x="442.60" y="300.30" width="13.20" height="5.40" rx="2.50" fill="#000" opacity="1" filter="url(#fb)"/>
<rect x="457.80" y="300.00" width="13.40" height="5.40" rx="2.50" fill="#000" opacity="1" filter="url(#fb)"/>
<rect x="473.90" y="299.00" width="14.30" height="5.60" rx="2.50" fill="#000" opacity="1" filter="url(#fb)"/>
<rect x="491.10" y="297.90" width="13.50" height="4.60" rx="2.30" fill="#000" opacity="1" filter="url(#fb)"/>
<text x="93.50" y="493.90" font-size="6.25" text-anchor="end" font-weight="normal" fill="#222" stroke="#222" stroke-width="0.2" >0.1 &#181;M DAC</text>
<path d="M107.40 491.80 H110.00" stroke="#333" stroke-width="0.7"/>
<path d="M123.40 491.80 H126.60 M125.00 490.20 V493.40" stroke="#333" stroke-width="0.7"/>
<path d="M140.40 491.80 H143.00" stroke="#333" stroke-width="0.7"/>
<path d="M156.90 491.80 H159.50" stroke="#333" stroke-width="0.7"/>
<path d="M173.70 491.80 H176.30" stroke="#333" stroke-width="0.7"/>
<path d="M189.90 491.80 H193.10 M191.50 490.20 V493.40" stroke="#333" stroke-width="0.7"/>
<path d="M206.40 491.80 H209.60 M208.00 490.20 V493.40" stroke="#333" stroke-width="0.7"/>
<path d="M223.20 491.80 H225.80" stroke="#333" stroke-width="0.7"/>
<path d="M239.90 491.80 H242.50" stroke="#333" stroke-width="0.7"/>
<text x="93.50" y="503.90" font-size="6.25" text-anchor="end" font-weight="normal" fill="#222" stroke="#222" stroke-width="0.2" >0.5 &#181;M DAC</text>
<path d="M107.40 501.80 H110.00" stroke="#333" stroke-width="0.7"/>
<path d="M123.70 501.80 H126.30" stroke="#333" stroke-width="0.7"/>
<path d="M140.10 501.80 H143.30 M141.70 500.20 V503.40" stroke="#333" stroke-width="0.7"/>
<path d="M156.90 501.80 H159.50" stroke="#333" stroke-width="0.7"/>
<path d="M173.70 501.80 H176.30" stroke="#333" stroke-width="0.7"/>
<path d="M190.20 501.80 H192.80" stroke="#333" stroke-width="0.7"/>
<path d="M206.70 501.80 H209.30" stroke="#333" stroke-width="0.7"/>
<path d="M222.90 501.80 H226.10 M224.50 500.20 V503.40" stroke="#333" stroke-width="0.7"/>
<path d="M239.60 501.80 H242.80 M241.20 500.20 V503.40" stroke="#333" stroke-width="0.7"/>
<text x="93.50" y="513.40" font-size="6.25" text-anchor="end" font-weight="normal" fill="#222" stroke="#222" stroke-width="0.2" >200 nM TSA</text>
<path d="M107.40 511.30 H110.00" stroke="#333" stroke-width="0.7"/>
<path d="M123.70 511.30 H126.30" stroke="#333" stroke-width="0.7"/>
<path d="M140.40 511.30 H143.00" stroke="#333" stroke-width="0.7"/>
<path d="M156.60 511.30 H159.80 M158.20 509.70 V512.90" stroke="#333" stroke-width="0.7"/>
<path d="M173.70 511.30 H176.30" stroke="#333" stroke-width="0.7"/>
<path d="M189.90 511.30 H193.10 M191.50 509.70 V512.90" stroke="#333" stroke-width="0.7"/>
<path d="M206.70 511.30 H209.30" stroke="#333" stroke-width="0.7"/>
<path d="M222.90 511.30 H226.10 M224.50 509.70 V512.90" stroke="#333" stroke-width="0.7"/>
<path d="M239.90 511.30 H242.50" stroke="#333" stroke-width="0.7"/>
<text x="93.50" y="522.60" font-size="6.25" text-anchor="end" font-weight="normal" fill="#222" stroke="#222" stroke-width="0.2" >300 nM TSA</text>
<path d="M107.40 520.50 H110.00" stroke="#333" stroke-width="0.7"/>
<path d="M123.70 520.50 H126.30" stroke="#333" stroke-width="0.7"/>
<path d="M140.40 520.50 H143.00" stroke="#333" stroke-width="0.7"/>
<path d="M156.90 520.50 H159.50" stroke="#333" stroke-width="0.7"/>
<path d="M173.40 520.50 H176.60 M175.00 518.90 V522.10" stroke="#333" stroke-width="0.7"/>
<path d="M190.20 520.50 H192.80" stroke="#333" stroke-width="0.7"/>
<path d="M206.40 520.50 H209.60 M208.00 518.90 V522.10" stroke="#333" stroke-width="0.7"/>
<path d="M223.20 520.50 H225.80" stroke="#333" stroke-width="0.7"/>
<path d="M239.60 520.50 H242.80 M241.20 518.90 V522.10" stroke="#333" stroke-width="0.7"/>
<rect x="97.20" y="527.90" width="153.60" height="21.00" fill="#f6f6f6" stroke="#bbb" stroke-width="0.8"/>
<text x="92.50" y="544.00" font-size="6.3" text-anchor="end" font-weight="normal" fill="#222" stroke="#222" stroke-width="0.2" >TAZ</text>
<rect x="133.10" y="539.50" width="14.50" height="5.00" rx="2.50" fill="#000" opacity="1" filter="url(#fb)"/>
<rect x="183.70" y="540.40" width="12.10" height="3.60" rx="1.80" fill="#000" opacity="0.28" filter="url(#fb)"/>
<rect x="200.70" y="540.20" width="8.10" height="3.60" rx="1.80" fill="#000" opacity="0.55" filter="url(#fb)"/>
<rect x="212.30" y="537.70" width="19.10" height="8.00" rx="2.50" fill="#000" opacity="1" filter="url(#fb)"/>
<rect x="231.00" y="536.10" width="15.70" height="6.60" rx="2.50" fill="#000" opacity="1" filter="url(#fb)"/>
<circle cx="175.6" cy="533.9" r="1.2" fill="#000"/>
<text x="104.20" y="560.90" font-size="6.1" text-anchor="middle" font-weight="normal" fill="#222" stroke="#222" stroke-width="0.2" >1.0</text>
<text x="122.10" y="560.90" font-size="6.1" text-anchor="middle" font-weight="normal" fill="#222" stroke="#222" stroke-width="0.2" >1.2</text>
<text x="138.70" y="560.90" font-size="6.1" text-anchor="middle" font-weight="normal" fill="#222" stroke="#222" stroke-width="0.2" >13.0</text>
<text x="155.00" y="560.90" font-size="6.1" text-anchor="middle" font-weight="normal" fill="#222" stroke="#222" stroke-width="0.2" >1.8</text>
<text x="171.30" y="560.90" font-size="6.1" text-anchor="middle" font-weight="normal" fill="#222" stroke="#222" stroke-width="0.2" >0.9</text>
<text x="187.30" y="560.90" font-size="6.1" text-anchor="middle" font-weight="normal" fill="#222" stroke="#222" stroke-width="0.2" >6.6</text>
<text x="204.20" y="560.90" font-size="6.1" text-anchor="middle" font-weight="normal" fill="#222" stroke="#222" stroke-width="0.2" >9.7</text>
<text x="220.50" y="560.90" font-size="6.1" text-anchor="middle" font-weight="normal" fill="#222" stroke="#222" stroke-width="0.2" >29.3</text>
<text x="239.60" y="560.90" font-size="6.1" text-anchor="middle" font-weight="normal" fill="#222" stroke="#222" stroke-width="0.2" >37.0</text>
<rect x="97.20" y="565.90" width="153.60" height="21.00" fill="#e9e9e9" stroke="#bbb" stroke-width="0.8"/>
<text x="92.50" y="579.20" font-size="6.3" text-anchor="end" font-weight="normal" fill="#222" stroke="#222" stroke-width="0.2" >MYC</text>
<rect x="102.70" y="575.75" width="13.40" height="3.30" rx="1.65" fill="#000" opacity="0.7124999999999999" filter="url(#fb)"/>
<rect x="102.70" y="580.40" width="13.40" height="4.00" rx="2.00" fill="#000" opacity="0.9" filter="url(#fb)"/>
<rect x="120.00" y="575.75" width="11.90" height="3.30" rx="1.65" fill="#000" opacity="0.7124999999999999" filter="url(#fb)"/>
<rect x="120.00" y="580.40" width="11.90" height="4.00" rx="2.00" fill="#000" opacity="0.95" filter="url(#fb)"/>
<rect x="135.00" y="575.75" width="12.60" height="3.30" rx="1.65" fill="#000" opacity="0.5225" filter="url(#fb)"/>
<rect x="135.00" y="580.40" width="12.60" height="4.00" rx="2.00" fill="#000" opacity="0.85" filter="url(#fb)"/>
<rect x="151.60" y="575.75" width="11.00" height="3.30" rx="1.65" fill="#000" opacity="0.8075" filter="url(#fb)"/>
<rect x="151.60" y="580.40" width="11.00" height="4.00" rx="2.00" fill="#000" opacity="1" filter="url(#fb)"/>
<rect x="166.20" y="575.75" width="12.70" height="3.30" rx="1.65" fill="#000" opacity="0.8075" filter="url(#fb)"/>
<rect x="166.20" y="580.40" width="12.70" height="4.00" rx="2.00" fill="#000" opacity="1" filter="url(#fb)"/>
<rect x="182.90" y="575.75" width="12.90" height="3.30" rx="1.65" fill="#000" opacity="0.38" filter="url(#fb)"/>
<rect x="182.90" y="580.40" width="12.90" height="4.00" rx="2.00" fill="#000" opacity="0.75" filter="url(#fb)"/>
<rect x="199.10" y="575.75" width="9.70" height="3.30" rx="1.65" fill="#000" opacity="0.38" filter="url(#fb)"/>
<rect x="199.10" y="580.40" width="9.70" height="4.00" rx="2.00" fill="#000" opacity="0.6" filter="url(#fb)"/>
<circle cx="186.5" cy="580.5" r="1.3" fill="#000" filter="url(#fb)"/>
<rect x="212.30" y="579.70" width="13.40" height="3.40" rx="1.70" fill="#000" opacity="0.85" filter="url(#fb)"/>
<rect x="229.80" y="579.70" width="11.30" height="2.60" rx="1.30" fill="#000" opacity="0.22" filter="url(#fb)"/>
<text x="107.30" y="596.40" font-size="6.1" text-anchor="middle" font-weight="normal" fill="#222" stroke="#222" stroke-width="0.2" >1.0</text>
<text x="125.80" y="596.40" font-size="6.1" text-anchor="middle" font-weight="normal" fill="#222" stroke="#222" stroke-width="0.2" >1.2</text>
<text x="141.20" y="596.40" font-size="6.1" text-anchor="middle" font-weight="normal" fill="#222" stroke="#222" stroke-width="0.2" >0.7</text>
<text x="156.50" y="596.40" font-size="6.1" text-anchor="middle" font-weight="normal" fill="#222" stroke="#222" stroke-width="0.2" >1.9</text>
<text x="170.40" y="596.40" font-size="6.1" text-anchor="middle" font-weight="normal" fill="#222" stroke="#222" stroke-width="0.2" >1.4</text>
<text x="187.30" y="596.40" font-size="6.1" text-anchor="middle" font-weight="normal" fill="#222" stroke="#222" stroke-width="0.2" >0.5</text>
<text x="203.30" y="596.40" font-size="6.1" text-anchor="middle" font-weight="normal" fill="#222" stroke="#222" stroke-width="0.2" >06</text>
<text x="219.60" y="596.40" font-size="6.1" text-anchor="middle" font-weight="normal" fill="#222" stroke="#222" stroke-width="0.2" >0.1</text>
<text x="236.50" y="596.40" font-size="6.1" text-anchor="middle" font-weight="normal" fill="#222" stroke="#222" stroke-width="0.2" >0.05</text>
<rect x="97.50" y="603.20" width="153.30" height="20.50" fill="#f8f8f8" stroke="#bbb" stroke-width="0.8"/>
<text x="92.50" y="617.70" font-size="6.3" text-anchor="end" font-weight="normal" fill="#222" stroke="#222" stroke-width="0.2" >&#946;-actin</text>
<rect x="100.30" y="614.50" width="16.20" height="6.00" rx="2.50" fill="#000" opacity="1" filter="url(#fb)"/>
<rect x="117.00" y="614.70" width="14.50" height="5.20" rx="2.50" fill="#000" opacity="1" filter="url(#fb)"/>
<rect x="132.00" y="614.60" width="17.00" height="5.80" rx="2.50" fill="#000" opacity="1" filter="url(#fb)"/>
<rect x="151.60" y="615.50" width="11.80" height="4.00" rx="2.00" fill="#000" opacity="1" filter="url(#fb)"/>
<rect x="165.00" y="614.60" width="16.00" height="5.40" rx="2.50" fill="#000" opacity="1" filter="url(#fb)"/>
<rect x="182.00" y="614.50" width="14.70" height="4.60" rx="2.30" fill="#000" opacity="1" filter="url(#fb)"/>
<rect x="199.00" y="613.90" width="10.60" height="5.00" rx="2.50" fill="#000" opacity="1" filter="url(#fb)"/>
<rect x="212.00" y="613.40" width="16.00" height="5.60" rx="2.50" fill="#000" opacity="1" filter="url(#fb)"/>
<rect x="229.80" y="611.70" width="16.90" height="5.00" rx="2.50" fill="#000" opacity="1" filter="url(#fb)"/>
<rect x="200.00" y="611.75" width="8.00" height="2.50" rx="1.25" fill="#000" opacity="0.4" filter="url(#fs)"/>
<text x="344.50" y="494.60" font-size="6.25" text-anchor="end" font-weight="normal" fill="#222" stroke="#222" stroke-width="0.2" >0.05 &#181;M DAC</text>
<path d="M356.70 492.50 H359.30" stroke="#333" stroke-width="0.7"/>
<path d="M373.40 492.50 H376.60 M375.00 490.90 V494.10" stroke="#333" stroke-width="0.7"/>
<path d="M390.30 492.50 H392.90" stroke="#333" stroke-width="0.7"/>
<path d="M407.00 492.50 H409.60" stroke="#333" stroke-width="0.7"/>
<path d="M423.70 492.50 H426.30" stroke="#333" stroke-width="0.7"/>
<path d="M440.20 492.50 H443.40 M441.80 490.90 V494.10" stroke="#333" stroke-width="0.7"/>
<path d="M456.90 492.50 H460.10 M458.50 490.90 V494.10" stroke="#333" stroke-width="0.7"/>
<path d="M473.90 492.50 H476.50" stroke="#333" stroke-width="0.7"/>
<path d="M490.50 492.50 H493.10" stroke="#333" stroke-width="0.7"/>
<text x="344.50" y="504.10" font-size="6.25" text-anchor="end" font-weight="normal" fill="#222" stroke="#222" stroke-width="0.2" >0.25 &#181;M DAC</text>
<path d="M356.70 502.00 H359.30" stroke="#333" stroke-width="0.7"/>
<path d="M373.70 502.00 H376.30" stroke="#333" stroke-width="0.7"/>
<path d="M390.00 502.00 H393.20 M391.60 500.40 V503.60" stroke="#333" stroke-width="0.7"/>
<path d="M407.00 502.00 H409.60" stroke="#333" stroke-width="0.7"/>
<path d="M423.70 502.00 H426.30" stroke="#333" stroke-width="0.7"/>
<path d="M440.50 502.00 H443.10" stroke="#333" stroke-width="0.7"/>
<path d="M457.20 502.00 H459.80" stroke="#333" stroke-width="0.7"/>
<path d="M473.60 502.00 H476.80 M475.20 500.40 V503.60" stroke="#333" stroke-width="0.7"/>
<path d="M490.20 502.00 H493.40 M491.80 500.40 V503.60" stroke="#333" stroke-width="0.7"/>
<text x="344.50" y="513.90" font-size="6.25" text-anchor="end" font-weight="normal" fill="#222" stroke="#222" stroke-width="0.2" >200 nM TSA</text>
<path d="M356.70 511.80 H359.30" stroke="#333" stroke-width="0.7"/>
<path d="M373.70 511.80 H376.30" stroke="#333" stroke-width="0.7"/>
<path d="M390.30 511.80 H392.90" stroke="#333" stroke-width="0.7"/>
<path d="M406.70 511.80 H409.90 M408.30 510.20 V513.40" stroke="#333" stroke-width="0.7"/>
<path d="M423.70 511.80 H426.30" stroke="#333" stroke-width="0.7"/>
<path d="M440.20 511.80 H443.40 M441.80 510.20 V513.40" stroke="#333" stroke-width="0.7"/>
<path d="M457.20 511.80 H459.80" stroke="#333" stroke-width="0.7"/>
<path d="M473.60 511.80 H476.80 M475.20 510.20 V513.40" stroke="#333" stroke-width="0.7"/>
<path d="M490.50 511.80 H493.10" stroke="#333" stroke-width="0.7"/>
<text x="344.50" y="523.40" font-size="6.25" text-anchor="end" font-weight="normal" fill="#222" stroke="#222" stroke-width="0.2" >300 nM TSA</text>
<path d="M356.70 521.30 H359.30" stroke="#333" stroke-width="0.7"/>
<path d="M373.70 521.30 H376.30" stroke="#333" stroke-width="0.7"/>
<path d="M390.30 521.30 H392.90" stroke="#333" stroke-width="0.7"/>
<path d="M407.00 521.30 H409.60" stroke="#333" stroke-width="0.7"/>
<path d="M423.40 521.30 H426.60 M425.00 519.70 V522.90" stroke="#333" stroke-width="0.7"/>
<path d="M440.50 521.30 H443.10" stroke="#333" stroke-width="0.7"/>
<path d="M456.90 521.30 H460.10 M458.50 519.70 V522.90" stroke="#333" stroke-width="0.7"/>
<path d="M473.90 521.30 H476.50" stroke="#333" stroke-width="0.7"/>
<path d="M490.20 521.30 H493.40 M491.80 519.70 V522.90" stroke="#333" stroke-width="0.7"/>
<defs><linearGradient id="hg" x1="0" x2="1" y1="0" y2="0"><stop offset="0" stop-color="#e2e2e2"/><stop offset="0.35" stop-color="#ebebeb"/><stop offset="1" stop-color="#eeeeee"/></linearGradient></defs>
<rect x="354.00" y="528.20" width="156.80" height="22.60" fill="url(#hg)" stroke="#bbb" stroke-width="0.8"/>
<text x="350.50" y="543.50" font-size="6.3" text-anchor="end" font-weight="normal" fill="#222" stroke="#222" stroke-width="0.2" >TAZ</text>
<rect x="374.20" y="538.10" width="14.60" height="2.80" rx="1.40" fill="#000" opacity="0.32" filter="url(#fb)"/>
<rect x="392.30" y="538.80" width="13.40" height="2.80" rx="1.40" fill="#000" opacity="0.32" filter="url(#fb)"/>
<rect x="363.70" y="548.30" width="5.70" height="2.00" rx="1.00" fill="#000" opacity="0.6" filter="url(#fb)"/>
<rect x="372.60" y="548.10" width="16.20" height="2.40" rx="1.20" fill="#000" opacity="0.92" filter="url(#fb)"/>
<rect x="392.30" y="548.10" width="13.40" height="2.40" rx="1.20" fill="#000" opacity="0.9" filter="url(#fb)"/>
<rect x="410.60" y="540.60" width="5.60" height="2.40" rx="1.20" fill="#000" opacity="0.12" filter="url(#fb)"/>
<rect x="428.40" y="542.20" width="13.70" height="2.80" rx="1.40" fill="#000" opacity="0.35" filter="url(#fb)"/>
<rect x="446.20" y="542.90" width="10.50" height="3.00" rx="1.50" fill="#000" opacity="0.68" filter="url(#fb)"/>
<rect x="459.90" y="543.40" width="15.30" height="3.60" rx="1.80" fill="#000" opacity="0.85" filter="url(#fb)"/>
<rect x="478.50" y="543.70" width="12.10" height="3.00" rx="1.50" fill="#000" opacity="0.7" filter="url(#fb)"/>
<rect x="493.80" y="543.30" width="14.60" height="3.80" rx="1.90" fill="#000" opacity="0.92" filter="url(#fb)"/>
<circle cx="506" cy="545" r="1.6" fill="#000" filter="url(#fb)"/>
<text x="369.80" y="562.60" font-size="6.1" text-anchor="middle" font-weight="normal" fill="#222" stroke="#222" stroke-width="0.2" >1.0</text>
<text x="385.80" y="562.60" font-size="6.1" text-anchor="middle" font-weight="normal" fill="#222" stroke="#222" stroke-width="0.2" >3.0</text>
<text x="399.70" y="562.60" font-size="6.1" text-anchor="middle" font-weight="normal" fill="#222" stroke="#222" stroke-width="0.2" >3.6</text>
<text x="416.60" y="562.60" font-size="6.1" text-anchor="middle" font-weight="normal" fill="#222" stroke="#222" stroke-width="0.2" >0.8</text>
<text x="432.00" y="562.60" font-size="6.1" text-anchor="middle" font-weight="normal" fill="#222" stroke="#222" stroke-width="0.2" >5.1</text>
<text x="447.40" y="562.60" font-size="6.1" text-anchor="middle" font-weight="normal" fill="#222" stroke="#222" stroke-width="0.2" >7.8</text>
<text x="464.30" y="562.60" font-size="6.1" text-anchor="middle" font-weight="normal" fill="#222" stroke="#222" stroke-width="0.2" >18.9</text>
<text x="481.20" y="562.60" font-size="6.1" text-anchor="middle" font-weight="normal" fill="#222" stroke="#222" stroke-width="0.2" >10.8</text>
<text x="499.70" y="562.60" font-size="6.1" text-anchor="middle" font-weight="normal" fill="#222" stroke="#222" stroke-width="0.2" >19.4</text>
<rect x="354.50" y="567.90" width="157.60" height="22.60" fill="#f5f5f5" stroke="#bbb" stroke-width="0.8"/>
<text x="350.50" y="579.70" font-size="6.3" text-anchor="end" font-weight="normal" fill="#222" stroke="#222" stroke-width="0.2" >MYC</text>
<rect x="362.60" y="580.75" width="13.20" height="3.90" rx="1.95" fill="#000" opacity="0.95" filter="url(#fb)"/>
<rect x="378.80" y="580.45" width="14.80" height="4.50" rx="2.25" fill="#000" opacity="1" filter="url(#fb)"/>
<rect x="396.80" y="581.80" width="13.00" height="3.00" rx="1.50" fill="#000" opacity="0.35" filter="url(#fb)"/>
<rect x="413.80" y="580.85" width="13.70" height="4.50" rx="2.25" fill="#000" opacity="1" filter="url(#fb)"/>
<rect x="430.80" y="581.60" width="14.50" height="3.80" rx="1.90" fill="#000" opacity="0.85" filter="url(#fb)"/>
<rect x="448.10" y="581.40" width="12.60" height="3.80" rx="1.90" fill="#000" opacity="0.95" filter="url(#fb)"/>
<rect x="463.10" y="581.60" width="14.60" height="3.80" rx="1.90" fill="#000" opacity="0.85" filter="url(#fb)"/>
<rect x="480.10" y="581.80" width="11.30" height="3.40" rx="1.70" fill="#000" opacity="0.6" filter="url(#fb)"/>
<rect x="495.40" y="581.80" width="10.50" height="2.40" rx="1.20" fill="#000" opacity="0.12" filter="url(#fb)"/>
<circle cx="482.8" cy="584.3" r="2.0" fill="#000" filter="url(#fb)"/>
<rect x="363.00" y="576.00" width="12.00" height="2.40" rx="1.20" fill="#000" opacity="0.12" filter="url(#fs)"/>
<rect x="414.00" y="576.30" width="13.00" height="2.60" rx="1.30" fill="#000" opacity="0.3" filter="url(#fs)"/>
<text x="369.80" y="599.10" font-size="6.1" text-anchor="middle" font-weight="normal" fill="#222" stroke="#222" stroke-width="0.2" >1.0</text>
<text x="385.80" y="599.10" font-size="6.1" text-anchor="middle" font-weight="normal" fill="#222" stroke="#222" stroke-width="0.2" >1.0</text>
<text x="404.90" y="599.10" font-size="6.1" text-anchor="middle" font-weight="normal" fill="#222" stroke="#222" stroke-width="0.2" >0.4</text>
<text x="421.20" y="599.10" font-size="6.1" text-anchor="middle" font-weight="normal" fill="#222" stroke="#222" stroke-width="0.2" >0.8</text>
<text x="437.50" y="599.10" font-size="6.1" text-anchor="middle" font-weight="normal" fill="#222" stroke="#222" stroke-width="0.2" >0.9</text>
<text x="454.20" y="599.10" font-size="6.1" text-anchor="middle" font-weight="normal" fill="#222" stroke="#222" stroke-width="0.2" >1.2</text>
<text x="470.50" y="599.10" font-size="6.1" text-anchor="middle" font-weight="normal" fill="#222" stroke="#222" stroke-width="0.2" >0.9</text>
<text x="487.40" y="599.10" font-size="6.1" text-anchor="middle" font-weight="normal" fill="#222" stroke="#222" stroke-width="0.2" >0.6</text>
<text x="501.20" y="599.10" font-size="6.1" text-anchor="middle" font-weight="normal" fill="#222" stroke="#222" stroke-width="0.2" >0.1</text>
<rect x="354.00" y="606.60" width="157.60" height="25.80" fill="#f8f8f8" stroke="#bbb" stroke-width="0.8"/>
<text x="350.50" y="621.20" font-size="6.3" text-anchor="end" font-weight="normal" fill="#222" stroke="#222" stroke-width="0.2" >&#946;-actin</text>
<rect x="359.70" y="613.95" width="16.30" height="4.30" rx="2.15" fill="#000" opacity="1" filter="url(#fb)"/>
<rect x="375.50" y="614.95" width="18.00" height="4.50" rx="2.25" fill="#000" opacity="1" filter="url(#fb)"/>
<rect x="393.50" y="615.55" width="15.50" height="4.50" rx="2.25" fill="#000" opacity="1" filter="url(#fb)"/>
<rect x="409.50" y="616.00" width="16.00" height="5.00" rx="2.50" fill="#000" opacity="1" filter="url(#fb)"/>
<rect x="426.00" y="616.95" width="16.00" height="4.50" rx="2.25" fill="#000" opacity="1" filter="url(#fb)"/>
<rect x="443.00" y="618.00" width="14.50" height="4.00" rx="2.00" fill="#000" opacity="1" filter="url(#fb)"/>
<rect x="458.00" y="617.95" width="15.50" height="4.50" rx="2.25" fill="#000" opacity="0.85" filter="url(#fb)"/>
<rect x="475.00" y="618.00" width="14.50" height="4.00" rx="2.00" fill="#000" opacity="1" filter="url(#fb)"/>
<rect x="490.00" y="617.55" width="15.10" height="4.50" rx="2.25" fill="#000" opacity="1" filter="url(#fb)"/>
<rect x="0.5" y="0.5" width="519" height="639" fill="none" stroke="#000" stroke-width="1"/>
</svg>
</body></html>
